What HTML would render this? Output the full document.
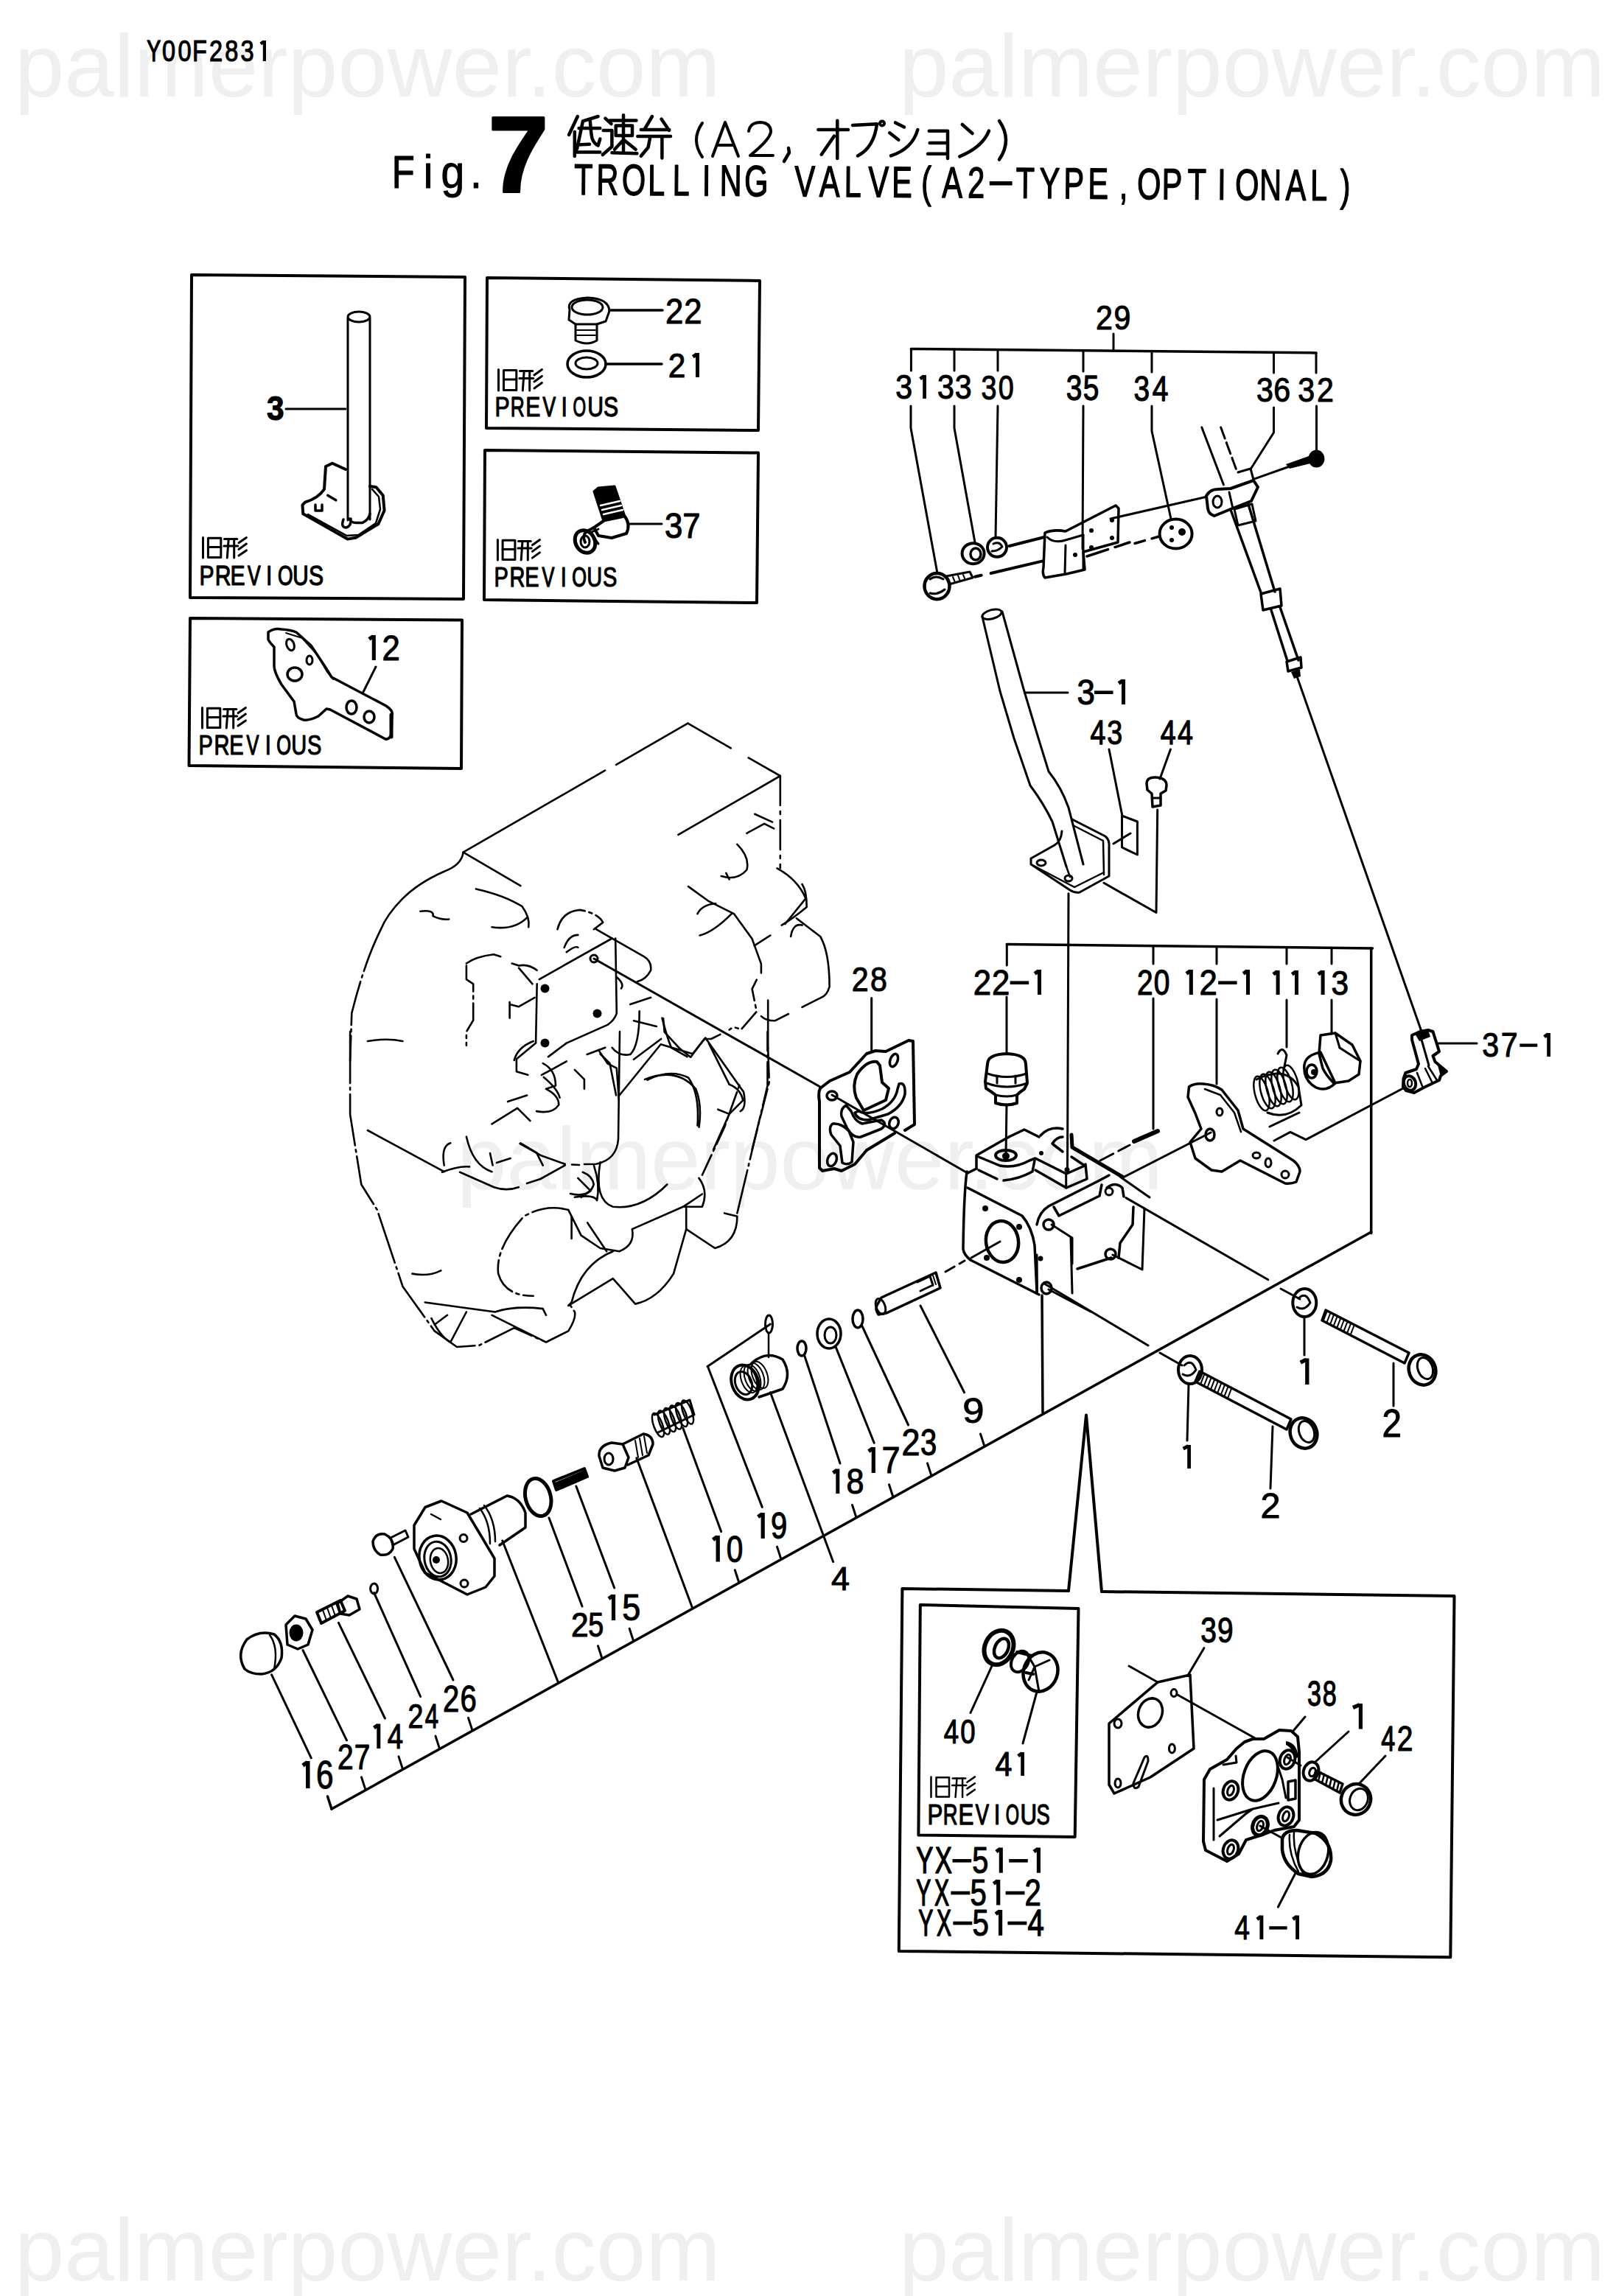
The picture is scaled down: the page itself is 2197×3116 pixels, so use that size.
<!DOCTYPE html>
<html><head><meta charset="utf-8"><style>
html,body{margin:0;padding:0;background:#fff;}
body{width:2197px;height:3116px;overflow:hidden;position:relative;}
svg{position:absolute;left:0;top:0;}
text{fill:#000;}
.wm{fill:#efefef;font-size:121.4px;font-family:"Liberation Sans",sans-serif;}
</style></head><body>
<svg width="2197" height="3116" viewBox="0 0 2197 3116">
<g class="wmg">
<text class="wm" x="19.7" y="130.5">palmerpower.com</text>
<text class="wm" x="1220" y="130.5">palmerpower.com</text>
<text class="wm" x="620" y="1614">palmerpower.com</text>
<text class="wm" x="19.7" y="3095">palmerpower.com</text>
<text class="wm" x="1220" y="3095">palmerpower.com</text>
</g>
<g stroke="#000" fill="none" stroke-linecap="round" stroke-linejoin="round">
<text transform="translate(199.3,83) scale(0.7,1)" font-size="40.6" font-weight="normal" font-family="Liberation Sans" stroke="#000" stroke-width="1.5">Y</text>
<text transform="translate(220.1,83) scale(0.8,1)" font-size="40.6" font-weight="normal" font-family="Liberation Sans" stroke="#000" stroke-width="1.2">0</text>
<text transform="translate(241.4,83) scale(0.8,1)" font-size="40.6" font-weight="normal" font-family="Liberation Sans" stroke="#000" stroke-width="1.2">0</text>
<text transform="translate(261.1,83) scale(0.8,1)" font-size="40.6" font-weight="normal" font-family="Liberation Sans" stroke="#000" stroke-width="1.2">F</text>
<text transform="translate(284,83) scale(0.8,1)" font-size="40.6" font-weight="normal" font-family="Liberation Sans" stroke="#000" stroke-width="1.2">2</text>
<text transform="translate(305.2,83) scale(0.8,1)" font-size="40.6" font-weight="normal" font-family="Liberation Sans" stroke="#000" stroke-width="1.2">8</text>
<text transform="translate(326.5,83) scale(0.8,1)" font-size="40.6" font-weight="normal" font-family="Liberation Sans" stroke="#000" stroke-width="1.2">3</text>
<path d="M353.7,59.5 L358.2,56.3 M358.9,55 L358.9,83" stroke-width="4.2" fill="none" stroke="#000" stroke-linecap="butt" stroke-linejoin="miter"/>
<text transform="translate(531.8,255.2) scale(0.8,1)" font-size="63.3" font-weight="normal" font-family="Liberation Sans" stroke="#000" stroke-width="1.2">F</text>
<text transform="translate(574.8,255.2) scale(0.9,1)" font-size="63.3" font-weight="normal" font-family="Liberation Sans" stroke="#000" stroke-width="1.1">i</text>
<text transform="translate(598.5,255.2) scale(0.9,1)" font-size="63.3" font-weight="normal" font-family="Liberation Sans" stroke="#000" stroke-width="1.1">g</text>
<text transform="translate(637.9,255.2) scale(0.9,1)" font-size="63.3" font-weight="normal" font-family="Liberation Sans" stroke="#000" stroke-width="1.1">.</text>
<text transform="translate(662.4,260) scale(1,1)" font-size="147.1" font-weight="bold" font-family="Liberation Sans" stroke="#000" stroke-width="3">7</text>
<path d="M783.8,158 L772,183 M779.8,179 L779.8,212" stroke-width="4.5" fill="none" />
<path d="M811.6,158 L791,164.3 L783,202 M785.6,174 L814.3,174 M800.8,163.4 Q802,182 803.5,187.6 Q806,195 811.6,197.5 L814.3,188.5 M783,196.6 L800,195.7 M782,206.4 L814.3,206.4" stroke-width="4.5" fill="none" />
<path d="M827.7,163.4 L863.5,163.4 M846,156.3 L846,204.6 M835.7,170.6 L858,170.6 L858,184 L835.7,184 Z M845.6,190.3 L834,202.8 M847,190.3 L862.6,202.8" stroke-width="4.5" fill="none" />
<path d="M821.4,160.7 L829.5,168 M818.7,177 L830.4,177 L830.4,199 L817.8,210 M830.4,207.3 L864.4,208.2" stroke-width="4.5" fill="none" />
<path d="M885,158 L874.3,176 M869.8,176 L908.3,176 M897.5,161.6 L908,177 M865.3,185 L910,185 M882.3,185.8 L879.6,200 L869.8,211.8 M898.4,185.8 L898.4,214.5" stroke-width="4.5" fill="none" />
<path d="M967,212 L984,166 L1002,212 M973,197 L996,197" stroke-width="4" fill="none" />
<path d="M1016,178 Q1018,166 1032,166 Q1046,167 1046,179 Q1045,189 1018,211 L1049,211" stroke-width="4" fill="none" />
<path d="M953,167 Q937,190 953,213" stroke-width="4" fill="none" />
<path d="M1070,201 L1071,207 L1064,219" stroke-width="4.5" fill="none" />
<path d="M1356,164 Q1374,190 1356,216.6" stroke-width="4.5" fill="none" />
<path d="M1110.4,176 L1151,176 M1136.3,163.8 L1136.3,214.9 M1132,184.6 L1114.7,209.7" stroke-width="4.5" fill="none" />
<path d="M1157,169.9 L1190,168.2 Q1186,200 1164,211.4" stroke-width="4.5" fill="none" />
<ellipse cx="1197" cy="167.5" rx="3" ry="3" stroke-width="4" fill="none"/>
<path d="M1215,166.4 L1227,172.5 M1207.2,180.3 L1219.3,189.8 M1209,211.4 Q1238,202 1245.3,176" stroke-width="4.5" fill="none" />
<path d="M1260.8,177.7 L1286,177.7 L1286,214.9 M1261.7,194 L1286,194 M1259,208.8 L1286,208.8" stroke-width="4.5" fill="none" />
<path d="M1305.8,169 L1319.6,181.1 M1302.3,212.3 Q1333,200 1342,177.7" stroke-width="4.5" fill="none" />
<text transform="translate(779.1,264.1) rotate(0.4) scale(0.7,1)" font-size="59.4" font-weight="normal" font-family="Liberation Sans" stroke="#000" stroke-width="1.4">T</text>
<text transform="translate(809.3,264.3) rotate(0.4) scale(0.7,1)" font-size="59.4" font-weight="normal" font-family="Liberation Sans" stroke="#000" stroke-width="1.4">R</text>
<text transform="translate(843.7,264.6) rotate(0.4) scale(0.7,1)" font-size="59.4" font-weight="normal" font-family="Liberation Sans" stroke="#000" stroke-width="1.5">O</text>
<text transform="translate(879.1,264.9) rotate(0.4) scale(0.7,1)" font-size="59.4" font-weight="normal" font-family="Liberation Sans" stroke="#000" stroke-width="1.4">L</text>
<text transform="translate(912.4,265.1) rotate(0.4) scale(0.7,1)" font-size="59.4" font-weight="normal" font-family="Liberation Sans" stroke="#000" stroke-width="1.4">L</text>
<text transform="translate(952.8,265.4) rotate(0.4) scale(0.7,1)" font-size="59.4" font-weight="normal" font-family="Liberation Sans" stroke="#000" stroke-width="1.4">I</text>
<text transform="translate(976.6,265.6) rotate(0.4) scale(0.7,1)" font-size="59.4" font-weight="normal" font-family="Liberation Sans" stroke="#000" stroke-width="1.4">N</text>
<text transform="translate(1009.9,265.9) rotate(0.4) scale(0.7,1)" font-size="59.4" font-weight="normal" font-family="Liberation Sans" stroke="#000" stroke-width="1.5">G</text>
<text transform="translate(1078.3,266.4) rotate(0.4) scale(0.7,1)" font-size="59.4" font-weight="normal" font-family="Liberation Sans" stroke="#000" stroke-width="1.5">V</text>
<text transform="translate(1111.8,266.7) rotate(0.4) scale(0.7,1)" font-size="59.4" font-weight="normal" font-family="Liberation Sans" stroke="#000" stroke-width="1.5">A</text>
<text transform="translate(1145.5,266.9) rotate(0.4) scale(0.7,1)" font-size="59.4" font-weight="normal" font-family="Liberation Sans" stroke="#000" stroke-width="1.4">L</text>
<text transform="translate(1178.2,267.2) rotate(0.4) scale(0.7,1)" font-size="59.4" font-weight="normal" font-family="Liberation Sans" stroke="#000" stroke-width="1.5">V</text>
<text transform="translate(1209.9,267.4) rotate(0.4) scale(0.7,1)" font-size="59.4" font-weight="normal" font-family="Liberation Sans" stroke="#000" stroke-width="1.4">E</text>
<text transform="translate(1250.1,267.7) rotate(0.4) scale(0.7,1)" font-size="59.4" font-weight="normal" font-family="Liberation Sans" stroke="#000" stroke-width="1.4">(</text>
<text transform="translate(1278.3,267.9) rotate(0.4) scale(0.7,1)" font-size="59.4" font-weight="normal" font-family="Liberation Sans" stroke="#000" stroke-width="1.5">A</text>
<text transform="translate(1313,268.2) rotate(0.4) scale(0.7,1)" font-size="59.4" font-weight="normal" font-family="Liberation Sans" stroke="#000" stroke-width="1.4">2</text>
<line x1="1342.8" y1="248.8" x2="1373.6" y2="248.8" stroke-width="5.5" stroke="#000" stroke-linecap="butt"/>
<text transform="translate(1378.5,268.7) rotate(0.4) scale(0.7,1)" font-size="59.4" font-weight="normal" font-family="Liberation Sans" stroke="#000" stroke-width="1.4">T</text>
<text transform="translate(1410.5,269) rotate(0.4) scale(0.7,1)" font-size="59.4" font-weight="normal" font-family="Liberation Sans" stroke="#000" stroke-width="1.4">Y</text>
<text transform="translate(1443.2,269.2) rotate(0.4) scale(0.7,1)" font-size="59.4" font-weight="normal" font-family="Liberation Sans" stroke="#000" stroke-width="1.4">P</text>
<text transform="translate(1476.3,269.5) rotate(0.4) scale(0.7,1)" font-size="59.4" font-weight="normal" font-family="Liberation Sans" stroke="#000" stroke-width="1.4">E</text>
<text transform="translate(1518.7,269.7) rotate(0.4) scale(0.7,1)" font-size="59.4" font-weight="normal" font-family="Liberation Sans" stroke="#000" stroke-width="1.4">,</text>
<text transform="translate(1542.9,270) rotate(0.4) scale(0.7,1)" font-size="59.4" font-weight="normal" font-family="Liberation Sans" stroke="#000" stroke-width="1.5">O</text>
<text transform="translate(1576.4,270.2) rotate(0.4) scale(0.7,1)" font-size="59.4" font-weight="normal" font-family="Liberation Sans" stroke="#000" stroke-width="1.4">P</text>
<text transform="translate(1611.5,270.5) rotate(0.4) scale(0.7,1)" font-size="59.4" font-weight="normal" font-family="Liberation Sans" stroke="#000" stroke-width="1.4">T</text>
<text transform="translate(1652,270.7) rotate(0.4) scale(0.7,1)" font-size="59.4" font-weight="normal" font-family="Liberation Sans" stroke="#000" stroke-width="1.4">I</text>
<text transform="translate(1676.1,271) rotate(0.4) scale(0.7,1)" font-size="59.4" font-weight="normal" font-family="Liberation Sans" stroke="#000" stroke-width="1.5">O</text>
<text transform="translate(1709,271.3) rotate(0.4) scale(0.7,1)" font-size="59.4" font-weight="normal" font-family="Liberation Sans" stroke="#000" stroke-width="1.4">N</text>
<text transform="translate(1744.4,271.5) rotate(0.4) scale(0.7,1)" font-size="59.4" font-weight="normal" font-family="Liberation Sans" stroke="#000" stroke-width="1.5">A</text>
<text transform="translate(1778.1,271.8) rotate(0.4) scale(0.7,1)" font-size="59.4" font-weight="normal" font-family="Liberation Sans" stroke="#000" stroke-width="1.4">L</text>
<text transform="translate(1818.4,272) rotate(0.4) scale(0.7,1)" font-size="59.4" font-weight="normal" font-family="Liberation Sans" stroke="#000" stroke-width="1.4">)</text>
<polygon points="260,373 631,376 629,813 258,811" stroke-width="4" fill="none"/>
<line x1="472" y1="432" x2="472" y2="706" stroke-width="3"/>
<line x1="502" y1="432" x2="502" y2="705" stroke-width="3"/>
<ellipse cx="487" cy="430" rx="15" ry="7" stroke-width="3" fill="none"/>
<path d="M469,637 L451,628.7 L442,633 L440,664 Q432,676 414,681.6 L410.4,685.3 L411.3,697.3 L471.6,731.6 L482.7,729.7 L513.3,711.2 L521.6,692.7 L519.7,672.3 L510.5,661.2 L502,660" stroke-width="4" fill="none" />
<path d="M417.8,698.2 L470.6,727 L486.4,726 L510,710 L516,691 L514,674 L505,664" stroke-width="2.5" fill="none" />
<path d="M474,704 Q476,709.4 483,709.4 L492,709.4 Q501,705 502,697" stroke-width="3.5" fill="none" />
<path d="M466,705 Q462,716 470,716 Q477,714 476,704" stroke-width="3.5" fill="none" />
<path d="M428,685 L428,693 L437,693 L437,685" stroke-width="3.5" fill="none" />
<line x1="444.7" y1="672.3" x2="455.8" y2="678.8" stroke-width="3.5"/>
<text transform="translate(361.9,570) scale(0.9,1)" font-size="47.1" font-weight="bold" font-family="Liberation Sans" stroke="#000" stroke-width="1.1">3</text>
<line x1="388" y1="555" x2="469" y2="555" stroke-width="3"/>
<line x1="275.5" y1="729.5" x2="275.5" y2="757" stroke-width="3"/>
<polyline points="282.4,730.3 299.8,730.3 299.8,756.4 282.4,756.4 282.4,730.3" stroke-width="3" fill="none"/>
<line x1="282.4" y1="742.5" x2="299.8" y2="742.5" stroke-width="3"/>
<line x1="304.5" y1="731.5" x2="321.8" y2="731.5" stroke-width="3"/>
<line x1="303.9" y1="741" x2="322.8" y2="741" stroke-width="3"/>
<line x1="310.2" y1="731.5" x2="308.3" y2="757" stroke-width="3"/>
<line x1="317.7" y1="731.5" x2="317.7" y2="757" stroke-width="3"/>
<line x1="334.4" y1="729.5" x2="324" y2="736.7" stroke-width="3"/>
<line x1="334.4" y1="738.1" x2="324" y2="745.4" stroke-width="3"/>
<line x1="334.4" y1="746.9" x2="324" y2="754.1" stroke-width="3"/>
<text transform="translate(270.5,794) scale(0.8,1)" font-size="37.7" font-weight="normal" font-family="Liberation Sans" stroke="#000" stroke-width="1.2">P</text>
<text transform="translate(291.8,794) scale(0.8,1)" font-size="37.7" font-weight="normal" font-family="Liberation Sans" stroke="#000" stroke-width="1.3">R</text>
<text transform="translate(312.6,794) scale(0.8,1)" font-size="37.7" font-weight="normal" font-family="Liberation Sans" stroke="#000" stroke-width="1.2">E</text>
<text transform="translate(336,794) scale(0.7,1)" font-size="37.7" font-weight="normal" font-family="Liberation Sans" stroke="#000" stroke-width="1.5">V</text>
<text transform="translate(361.1,794) scale(0.8,1)" font-size="37.7" font-weight="normal" font-family="Liberation Sans" stroke="#000" stroke-width="1.2">I</text>
<text transform="translate(377,794) scale(0.7,1)" font-size="37.7" font-weight="normal" font-family="Liberation Sans" stroke="#000" stroke-width="1.5">O</text>
<text transform="translate(396.9,794) scale(0.8,1)" font-size="37.7" font-weight="normal" font-family="Liberation Sans" stroke="#000" stroke-width="1.3">U</text>
<text transform="translate(418.9,794) scale(0.8,1)" font-size="37.7" font-weight="normal" font-family="Liberation Sans" stroke="#000" stroke-width="1.3">S</text>
<polygon points="661,377 1031,381 1029,584 660,581" stroke-width="4" fill="none"/>
<path d="M773,420 Q768,406 797,404 Q826,405 827,422 L822,436 L810,440 L810,462 Q797,470 781,462 L781,440 L772,434 Z" stroke-width="3" fill="none" />
<ellipse cx="797" cy="417" rx="21" ry="10" stroke-width="3" fill="none"/>
<line x1="781" y1="440" x2="810" y2="440" stroke-width="3"/>
<line x1="783" y1="448" x2="808" y2="448" stroke-width="2"/>
<line x1="783" y1="455" x2="808" y2="455" stroke-width="2"/>
<ellipse cx="796" cy="494" rx="26" ry="18" stroke-width="3.5" fill="none"/>
<ellipse cx="796" cy="493" rx="15" ry="8" stroke-width="3" fill="none"/>
<line x1="827" y1="421" x2="899" y2="421" stroke-width="3.5"/>
<line x1="823" y1="494" x2="898" y2="494" stroke-width="3.5"/>
<text transform="translate(903.1,439) scale(0.9,1)" font-size="48.6" font-weight="normal" font-family="Liberation Sans" stroke="#000" stroke-width="1.1">2</text>
<text transform="translate(928.3,439) scale(0.9,1)" font-size="48.6" font-weight="normal" font-family="Liberation Sans" stroke="#000" stroke-width="1.1">2</text>
<text transform="translate(906.8,512) scale(0.9,1)" font-size="47.1" font-weight="normal" font-family="Liberation Sans" stroke="#000" stroke-width="1.1">2</text>
<path d="M940.3,484.3 L945.7,480.5 M946.5,479 L946.5,512" stroke-width="5" fill="none" stroke="#000" stroke-linecap="butt" stroke-linejoin="miter"/>
<line x1="676.5" y1="501.5" x2="676.5" y2="530" stroke-width="3"/>
<polyline points="683.5,502.4 700.8,502.4 700.8,529.4 683.5,529.4 683.5,502.4" stroke-width="3" fill="none"/>
<line x1="683.5" y1="515" x2="700.8" y2="515" stroke-width="3"/>
<line x1="705.5" y1="503.6" x2="722.8" y2="503.6" stroke-width="3"/>
<line x1="704.9" y1="513.5" x2="723.8" y2="513.5" stroke-width="3"/>
<line x1="711.2" y1="503.6" x2="709.3" y2="530" stroke-width="3"/>
<line x1="718.7" y1="503.6" x2="718.7" y2="530" stroke-width="3"/>
<line x1="735.4" y1="501.5" x2="725" y2="509" stroke-width="3"/>
<line x1="735.4" y1="510.5" x2="725" y2="518" stroke-width="3"/>
<line x1="735.4" y1="519.5" x2="725" y2="527" stroke-width="3"/>
<text transform="translate(671.5,565) scale(0.8,1)" font-size="37.7" font-weight="normal" font-family="Liberation Sans" stroke="#000" stroke-width="1.2">P</text>
<text transform="translate(692.7,565) scale(0.7,1)" font-size="37.7" font-weight="normal" font-family="Liberation Sans" stroke="#000" stroke-width="1.3">R</text>
<text transform="translate(713.3,565) scale(0.8,1)" font-size="37.7" font-weight="normal" font-family="Liberation Sans" stroke="#000" stroke-width="1.2">E</text>
<text transform="translate(736.6,565) scale(0.7,1)" font-size="37.7" font-weight="normal" font-family="Liberation Sans" stroke="#000" stroke-width="1.5">V</text>
<text transform="translate(761.5,565) scale(0.8,1)" font-size="37.7" font-weight="normal" font-family="Liberation Sans" stroke="#000" stroke-width="1.2">I</text>
<text transform="translate(777.4,565) scale(0.6,1)" font-size="37.7" font-weight="normal" font-family="Liberation Sans" stroke="#000" stroke-width="1.5">O</text>
<text transform="translate(797.2,565) scale(0.8,1)" font-size="37.7" font-weight="normal" font-family="Liberation Sans" stroke="#000" stroke-width="1.3">U</text>
<text transform="translate(819,565) scale(0.8,1)" font-size="37.7" font-weight="normal" font-family="Liberation Sans" stroke="#000" stroke-width="1.3">S</text>
<polygon points="658,611 1029,614.5 1027,818 657,814" stroke-width="4" fill="none"/>
<polygon points="806,667 812,662 834,660 848,701 819,707" fill="#000" stroke="#000" stroke-width="3" stroke-linejoin="round"/>
<path d="M815,686 L841,680 M817,692 L843,686 M819,698 L845,692" stroke="#fff" stroke-width="2.5"/>
<path d="M848,701 Q856,712 850,724 L830,730 L812,727 L806,716 L819,707" stroke-width="4" fill="none" />
<path d="M806,716 L795,722 Q790,728 794,736" stroke-width="4" fill="none" />
<ellipse cx="794" cy="735" rx="13" ry="16" stroke-width="5" fill="none" transform="rotate(-30 794 735)"/>
<ellipse cx="794" cy="735" rx="6" ry="8" stroke-width="3" fill="none"/>
<path d="M803,722 L812,718 M806,730 L812,738" stroke-width="3" fill="none" />
<line x1="855" y1="711" x2="898" y2="711" stroke-width="3"/>
<text transform="translate(901.9,730) scale(0.9,1)" font-size="48.6" font-weight="normal" font-family="Liberation Sans" stroke="#000" stroke-width="1.2">3</text>
<text transform="translate(926.3,730) scale(0.9,1)" font-size="48.6" font-weight="normal" font-family="Liberation Sans" stroke="#000" stroke-width="1.1">7</text>
<line x1="675.4" y1="732.5" x2="675.4" y2="760" stroke-width="3"/>
<polyline points="682.1,733.3 698.9,733.3 698.9,759.4 682.1,759.4 682.1,733.3" stroke-width="3" fill="none"/>
<line x1="682.1" y1="745.5" x2="698.9" y2="745.5" stroke-width="3"/>
<line x1="703.5" y1="734.5" x2="720.3" y2="734.5" stroke-width="3"/>
<line x1="702.9" y1="744" x2="721.2" y2="744" stroke-width="3"/>
<line x1="709" y1="734.5" x2="707.2" y2="760" stroke-width="3"/>
<line x1="716.3" y1="734.5" x2="716.3" y2="760" stroke-width="3"/>
<line x1="732.5" y1="732.5" x2="722.4" y2="739.7" stroke-width="3"/>
<line x1="732.5" y1="741.1" x2="722.4" y2="748.4" stroke-width="3"/>
<line x1="732.5" y1="749.9" x2="722.4" y2="757.1" stroke-width="3"/>
<text transform="translate(670.5,796) scale(0.8,1)" font-size="36.2" font-weight="normal" font-family="Liberation Sans" stroke="#000" stroke-width="1.2">P</text>
<text transform="translate(691.5,796) scale(0.8,1)" font-size="36.2" font-weight="normal" font-family="Liberation Sans" stroke="#000" stroke-width="1.3">R</text>
<text transform="translate(712.2,796) scale(0.8,1)" font-size="36.2" font-weight="normal" font-family="Liberation Sans" stroke="#000" stroke-width="1.2">E</text>
<text transform="translate(735.5,796) scale(0.7,1)" font-size="36.2" font-weight="normal" font-family="Liberation Sans" stroke="#000" stroke-width="1.4">V</text>
<text transform="translate(760.7,796) scale(0.8,1)" font-size="36.2" font-weight="normal" font-family="Liberation Sans" stroke="#000" stroke-width="1.2">I</text>
<text transform="translate(776.3,796) scale(0.7,1)" font-size="36.2" font-weight="normal" font-family="Liberation Sans" stroke="#000" stroke-width="1.5">O</text>
<text transform="translate(796.2,796) scale(0.8,1)" font-size="36.2" font-weight="normal" font-family="Liberation Sans" stroke="#000" stroke-width="1.2">U</text>
<text transform="translate(818,796) scale(0.8,1)" font-size="36.2" font-weight="normal" font-family="Liberation Sans" stroke="#000" stroke-width="1.2">S</text>
<polygon points="258,839 627,841.5 626,1043 256.5,1039" stroke-width="4" fill="none"/>
<path d="M364,858 Q372,852 382,854 Q395,855 402,858 L422,876 L440,903 L450,919 L524,958 Q534,965 532,970 L531,997 Q528,1004 523,1003 L448,963 L443,962 L432,972 Q420,978 412,977 Q402,974 402,969 L399,952 L382,929 Q372,912 372,904 L372,878 Q366,872 364,868 Z" stroke-width="3.5" fill="none" />
<path d="M388,859 L410,866 L430,888 L444,912 L452,922" stroke-width="2" fill="none" />
<line x1="531" y1="970" x2="531" y2="1000" stroke-width="5"/>
<ellipse cx="394" cy="875" rx="5" ry="8" stroke-width="3" fill="none" transform="rotate(-20 394 875)"/>
<ellipse cx="420" cy="896" rx="4" ry="6" stroke-width="3" fill="none"/>
<ellipse cx="400" cy="915" rx="10" ry="9" stroke-width="3.5" fill="none"/>
<ellipse cx="477" cy="960" rx="7" ry="9" stroke-width="3.5" fill="none"/>
<ellipse cx="501" cy="973" rx="7" ry="8" stroke-width="3.5" fill="none"/>
<path d="M500.9,867.4 L506.4,863.5 M507.3,862 L507.3,896" stroke-width="5.1" fill="none" stroke="#000" stroke-linecap="butt" stroke-linejoin="miter"/>
<text transform="translate(518.4,896) scale(0.9,1)" font-size="48.6" font-weight="normal" font-family="Liberation Sans" stroke="#000" stroke-width="1.1">2</text>
<line x1="510" y1="905" x2="492" y2="941" stroke-width="3"/>
<line x1="274.5" y1="960.5" x2="274.5" y2="988" stroke-width="3"/>
<polyline points="281.4,961.3 298.8,961.3 298.8,987.4 281.4,987.4 281.4,961.3" stroke-width="3" fill="none"/>
<line x1="281.4" y1="973.5" x2="298.8" y2="973.5" stroke-width="3"/>
<line x1="303.5" y1="962.5" x2="320.8" y2="962.5" stroke-width="3"/>
<line x1="302.9" y1="972" x2="321.8" y2="972" stroke-width="3"/>
<line x1="309.2" y1="962.5" x2="307.3" y2="988" stroke-width="3"/>
<line x1="316.7" y1="962.5" x2="316.7" y2="988" stroke-width="3"/>
<line x1="333.4" y1="960.5" x2="323" y2="967.7" stroke-width="3"/>
<line x1="333.4" y1="969.1" x2="323" y2="976.4" stroke-width="3"/>
<line x1="333.4" y1="977.9" x2="323" y2="985.1" stroke-width="3"/>
<text transform="translate(269.5,1024) scale(0.8,1)" font-size="36.2" font-weight="normal" font-family="Liberation Sans" stroke="#000" stroke-width="1.2">P</text>
<text transform="translate(290.5,1024) scale(0.8,1)" font-size="36.2" font-weight="normal" font-family="Liberation Sans" stroke="#000" stroke-width="1.3">R</text>
<text transform="translate(311.2,1024) scale(0.8,1)" font-size="36.2" font-weight="normal" font-family="Liberation Sans" stroke="#000" stroke-width="1.2">E</text>
<text transform="translate(334.5,1024) scale(0.7,1)" font-size="36.2" font-weight="normal" font-family="Liberation Sans" stroke="#000" stroke-width="1.4">V</text>
<text transform="translate(359.7,1024) scale(0.8,1)" font-size="36.2" font-weight="normal" font-family="Liberation Sans" stroke="#000" stroke-width="1.2">I</text>
<text transform="translate(375.3,1024) scale(0.7,1)" font-size="36.2" font-weight="normal" font-family="Liberation Sans" stroke="#000" stroke-width="1.5">O</text>
<text transform="translate(395.2,1024) scale(0.8,1)" font-size="36.2" font-weight="normal" font-family="Liberation Sans" stroke="#000" stroke-width="1.2">U</text>
<text transform="translate(417,1024) scale(0.8,1)" font-size="36.2" font-weight="normal" font-family="Liberation Sans" stroke="#000" stroke-width="1.2">S</text>
<text transform="translate(1487.1,447) scale(0.9,1)" font-size="45.7" font-weight="normal" font-family="Liberation Sans" stroke="#000" stroke-width="1.1">2</text>
<text transform="translate(1511.5,447) scale(0.9,1)" font-size="45.7" font-weight="normal" font-family="Liberation Sans" stroke="#000" stroke-width="1.1">9</text>
<line x1="1511" y1="453" x2="1511" y2="476" stroke-width="3"/>
<line x1="1236.4" y1="473.5" x2="1786" y2="478.9" stroke-width="3.5"/>
<line x1="1236.4" y1="473.5" x2="1236.4" y2="503" stroke-width="3"/>
<line x1="1295" y1="474.1" x2="1295" y2="503" stroke-width="3"/>
<line x1="1354" y1="474.7" x2="1354" y2="503" stroke-width="3"/>
<line x1="1470" y1="475.8" x2="1470" y2="504" stroke-width="3"/>
<line x1="1563" y1="476.7" x2="1563" y2="505" stroke-width="3"/>
<line x1="1728.5" y1="478.3" x2="1728.5" y2="506" stroke-width="3"/>
<line x1="1786" y1="478.9" x2="1786" y2="506" stroke-width="3"/>
<text transform="translate(1215.3,541) scale(0.9,1)" font-size="45.7" font-weight="normal" font-family="Liberation Sans" stroke="#000" stroke-width="1.1">3</text>
<path d="M1248.6,514.1 L1253.8,510.4 M1254.6,509 L1254.6,541" stroke-width="4.8" fill="none" stroke="#000" stroke-linecap="butt" stroke-linejoin="miter"/>
<text transform="translate(1272,541) scale(0.9,1)" font-size="45.7" font-weight="normal" font-family="Liberation Sans" stroke="#000" stroke-width="1.1">3</text>
<text transform="translate(1295.8,541) scale(0.9,1)" font-size="45.7" font-weight="normal" font-family="Liberation Sans" stroke="#000" stroke-width="1.1">3</text>
<text transform="translate(1331.5,542) scale(0.8,1)" font-size="47.1" font-weight="normal" font-family="Liberation Sans" stroke="#000" stroke-width="1.2">3</text>
<text transform="translate(1354.8,542) scale(0.8,1)" font-size="47.1" font-weight="normal" font-family="Liberation Sans" stroke="#000" stroke-width="1.2">0</text>
<text transform="translate(1446.8,543) scale(0.8,1)" font-size="48.6" font-weight="normal" font-family="Liberation Sans" stroke="#000" stroke-width="1.3">3</text>
<text transform="translate(1469.7,543) scale(0.8,1)" font-size="48.6" font-weight="normal" font-family="Liberation Sans" stroke="#000" stroke-width="1.3">5</text>
<text transform="translate(1538.6,544) scale(0.8,1)" font-size="48.6" font-weight="normal" font-family="Liberation Sans" stroke="#000" stroke-width="1.2">3</text>
<text transform="translate(1563.7,544) scale(0.8,1)" font-size="48.6" font-weight="normal" font-family="Liberation Sans" stroke="#000" stroke-width="1.3">4</text>
<text transform="translate(1704.9,545) scale(0.9,1)" font-size="45.7" font-weight="normal" font-family="Liberation Sans" stroke="#000" stroke-width="1.1">3</text>
<text transform="translate(1728.3,545) scale(0.9,1)" font-size="45.7" font-weight="normal" font-family="Liberation Sans" stroke="#000" stroke-width="1.1">6</text>
<text transform="translate(1761.3,545) scale(0.9,1)" font-size="45.7" font-weight="normal" font-family="Liberation Sans" stroke="#000" stroke-width="1.1">3</text>
<text transform="translate(1787.1,545) scale(0.9,1)" font-size="45.7" font-weight="normal" font-family="Liberation Sans" stroke="#000" stroke-width="1.1">2</text>
<polyline points="1236,551 1236,581 1272,778" stroke-width="3" fill="none"/>
<polyline points="1295,551 1295,581 1323,736" stroke-width="3" fill="none"/>
<polyline points="1354,551 1351,729" stroke-width="3" fill="none"/>
<polyline points="1470,551 1469,745" stroke-width="3" fill="none"/>
<polyline points="1563,551 1563,585 1589,704" stroke-width="3" fill="none"/>
<polyline points="1728.5,553 1728.5,587 1697.5,636" stroke-width="3" fill="none"/>
<polyline points="1786.5,551 1786.5,613" stroke-width="3" fill="none"/>
<ellipse cx="1271.5" cy="795.6" rx="17" ry="17.6" stroke-width="4.5" fill="none"/>
<path d="M1262,786 Q1270,780 1280,786 M1262,805 Q1272,808 1282,800" stroke-width="3" fill="none" />
<polygon points="1284,782 1316,776 1320,784 1288,793" stroke-width="3" fill="none"/>
<line x1="1293" y1="783" x2="1296" y2="790" stroke-width="2"/>
<line x1="1300" y1="781" x2="1303" y2="789" stroke-width="2"/>
<line x1="1307" y1="780" x2="1310" y2="787" stroke-width="2"/>
<line x1="1323" y1="782.7" x2="1331.7" y2="780.8" stroke-width="4"/>
<line x1="1344.7" y1="778" x2="1415" y2="761.4" stroke-width="4"/>
<ellipse cx="1320.6" cy="751.2" rx="15" ry="14" stroke-width="4" fill="none"/>
<ellipse cx="1324" cy="752" rx="7" ry="8" stroke-width="3.5" fill="none"/>
<ellipse cx="1353" cy="742.8" rx="13" ry="13" stroke-width="4" fill="none"/>
<path d="M1348,738 Q1356,734 1360,742 Q1354,748 1346,748" stroke-width="3" fill="none" />
<line x1="1369.7" y1="741" x2="1417" y2="729" stroke-width="4"/>
<path d="M1418,723 Q1430,718 1446,721 L1514,686 L1518,690 L1517,736 L1470,749 L1472,773 L1447,779 L1418,784 Q1414,780 1416,770 Z" stroke-width="3.5" fill="none" />
<path d="M1421,729 Q1430,738 1446,733 L1470,726" stroke-width="3" fill="none" />
<line x1="1446" y1="740" x2="1445" y2="779" stroke-width="3"/>
<line x1="1470" y1="726" x2="1470" y2="772" stroke-width="3"/>
<circle cx="1481" cy="720" r="3" fill="#000" stroke="none"/>
<circle cx="1509" cy="706" r="3" fill="#000" stroke="none"/>
<circle cx="1509" cy="730" r="3" fill="#000" stroke="none"/>
<circle cx="1481" cy="743" r="3" fill="#000" stroke="none"/>
<circle cx="1459" cy="753" r="3" fill="#000" stroke="none"/>
<line x1="1507" y1="704" x2="1636" y2="674.5" stroke-width="3"/>
<line x1="1475" y1="755" x2="1533" y2="736" stroke-width="3.5" stroke-dasharray="30 10"/>
<ellipse cx="1595.6" cy="724.5" rx="22" ry="20" stroke-width="4" fill="none"/>
<circle cx="1604" cy="722" r="5" fill="#000" stroke="none"/>
<circle cx="1590" cy="716" r="3" fill="#000" stroke="none"/>
<circle cx="1590" cy="733" r="3" fill="#000" stroke="none"/>
<line x1="1540" y1="737.5" x2="1573" y2="728" stroke-width="3.5" stroke-dasharray="14 10"/>
<path d="M1637,673 Q1642,664 1652,664 L1670,663 L1701,652 L1707,661 L1698,680 L1670,691 L1648,700 Q1640,698 1639,690 Z" stroke-width="4" fill="none" />
<ellipse cx="1652" cy="681" rx="6" ry="8" stroke-width="3" fill="none"/>
<line x1="1668" y1="668" x2="1673" y2="690" stroke-width="3"/>
<line x1="1630.8" y1="580" x2="1660.4" y2="657.8" stroke-width="3"/>
<line x1="1656.7" y1="580" x2="1679" y2="641" stroke-width="3" stroke-dasharray="16 6"/>
<path d="M1680,641 L1697,636 L1701,651" stroke-width="3" fill="none" />
<line x1="1669.7" y1="691" x2="1711" y2="804" stroke-width="3.5"/>
<line x1="1693.8" y1="683.8" x2="1730" y2="803" stroke-width="3.5"/>
<polygon points="1675,691 1699,684 1704,707 1680,713" stroke-width="3" fill="none"/>
<polygon points="1711,806 1737,799 1739,822 1714,828" stroke-width="3.5" fill="none"/>
<line x1="1725" y1="828" x2="1747" y2="897" stroke-width="3.5"/>
<line x1="1737" y1="824" x2="1762" y2="896" stroke-width="3.5"/>
<polygon points="1746,898 1765,892 1766,906 1748,911" stroke-width="3.5" fill="none"/>
<polygon points="1752,912 1764,908 1765,918 1756,921" fill="#000" stroke="none"/>
<line x1="1760" y1="918" x2="1928.7" y2="1399" stroke-width="3"/>
<ellipse cx="1786.4" cy="622.6" rx="9" ry="10" stroke-width="4" fill="#000"/>
<polygon points="1776,619 1782,628 1750,636 1745,630" fill="#000" stroke="none"/>
<line x1="1750" y1="633" x2="1701" y2="650.4" stroke-width="3"/>
<ellipse cx="1346" cy="833.7" rx="13.5" ry="6" stroke-width="3" fill="none" transform="rotate(-15 1346 833.7)"/>
<path d="M1333,837 L1357,938 L1376,1002 L1398,1066 Q1416,1090 1428,1115 L1447,1176" stroke-width="3" fill="none" />
<path d="M1360,830 L1389,935 L1407,995 L1423,1047 Q1440,1068 1450,1096 L1470,1173" stroke-width="3" fill="none" />
<path d="M1455,1112 L1500,1135 Q1506,1140 1505,1150 L1505,1189 L1465,1211 Q1458,1212 1452,1208 L1399,1173 L1399,1165 L1431,1147 Q1440,1142 1441,1128" stroke-width="3" fill="none" />
<path d="M1456,1120 L1497,1141 L1498,1187" stroke-width="2.5" fill="none" />
<path d="M1403,1175 L1458,1204 L1498,1184" stroke-width="2.5" fill="none" />
<ellipse cx="1413" cy="1171" rx="6" ry="4" stroke-width="3" fill="none"/>
<ellipse cx="1450" cy="1192" rx="5" ry="4" stroke-width="3" fill="none"/>
<path d="M1447,1176 L1452,1190" stroke-width="2.5" fill="none" />
<text transform="translate(1461.4,956) scale(0.9,1)" font-size="48.6" font-weight="normal" font-family="Liberation Sans" stroke="#000" stroke-width="1.2">3</text>
<line x1="1485" y1="939.7" x2="1510.5" y2="939.7" stroke-width="4.6" stroke="#000" stroke-linecap="butt"/>
<path d="M1518.1,927.4 L1523.6,923.5 M1524.5,922 L1524.5,956" stroke-width="5.1" fill="none" stroke="#000" stroke-linecap="butt" stroke-linejoin="miter"/>
<line x1="1391" y1="940" x2="1449" y2="940" stroke-width="3"/>
<text transform="translate(1479.4,1010) scale(0.8,1)" font-size="47.1" font-weight="normal" font-family="Liberation Sans" stroke="#000" stroke-width="1.3">4</text>
<text transform="translate(1502.3,1010) scale(0.8,1)" font-size="47.1" font-weight="normal" font-family="Liberation Sans" stroke="#000" stroke-width="1.2">3</text>
<line x1="1505" y1="1017" x2="1522.5" y2="1105" stroke-width="3"/>
<polygon points="1522.5,1107 1543.4,1115 1543.4,1160 1522.5,1150" stroke-width="3" fill="none"/>
<line x1="1511" y1="1145" x2="1534" y2="1131" stroke-width="3"/>
<text transform="translate(1574.8,1010) scale(0.8,1)" font-size="47.1" font-weight="normal" font-family="Liberation Sans" stroke="#000" stroke-width="1.3">4</text>
<text transform="translate(1598.1,1010) scale(0.8,1)" font-size="47.1" font-weight="normal" font-family="Liberation Sans" stroke="#000" stroke-width="1.3">4</text>
<line x1="1588.4" y1="1017" x2="1574" y2="1057" stroke-width="3"/>
<path d="M1556,1064 Q1556,1054 1569,1055 Q1583,1056 1583,1066 L1582,1073 L1575,1077 L1575,1093 L1564,1095 L1563,1077 L1557,1072 Z" stroke-width="3.5" fill="none" />
<line x1="1564" y1="1083" x2="1575" y2="1083" stroke-width="3"/>
<polyline points="1570.7,1099 1569,1238.5 1498,1198.3" stroke-width="3" fill="none"/>
<line x1="1450" y1="1212.8" x2="1448.5" y2="1589" stroke-width="3"/>
<line x1="1366.3" y1="1281.5" x2="1862.5" y2="1287" stroke-width="3.5"/>
<line x1="1366.3" y1="1281.5" x2="1366.3" y2="1310" stroke-width="3"/>
<line x1="1565" y1="1283.7" x2="1565" y2="1308" stroke-width="3"/>
<line x1="1651" y1="1284.7" x2="1651" y2="1308" stroke-width="3"/>
<line x1="1746" y1="1285.7" x2="1746" y2="1308" stroke-width="3"/>
<line x1="1807" y1="1286.4" x2="1807" y2="1308" stroke-width="3"/>
<line x1="1860.7" y1="1287" x2="1860.7" y2="1673.8" stroke-width="3.5"/>
<line x1="1860.7" y1="1672" x2="450" y2="2455" stroke-width="3.5"/>
<line x1="444.5" y1="2438" x2="450" y2="2455" stroke-width="3.5"/>
<text transform="translate(1320.8,1350) scale(0.9,1)" font-size="48.6" font-weight="normal" font-family="Liberation Sans" stroke="#000" stroke-width="1.1">2</text>
<text transform="translate(1346,1350) scale(0.9,1)" font-size="48.6" font-weight="normal" font-family="Liberation Sans" stroke="#000" stroke-width="1.1">2</text>
<line x1="1370.7" y1="1333.7" x2="1396.2" y2="1333.7" stroke-width="4.6" stroke="#000" stroke-linecap="butt"/>
<path d="M1404.1,1321.4 L1409.6,1317.5 M1410.5,1316 L1410.5,1350" stroke-width="5.1" fill="none" stroke="#000" stroke-linecap="butt" stroke-linejoin="miter"/>
<text transform="translate(1543.1,1350) scale(0.8,1)" font-size="48.6" font-weight="normal" font-family="Liberation Sans" stroke="#000" stroke-width="1.2">2</text>
<text transform="translate(1565.8,1350) scale(0.8,1)" font-size="48.6" font-weight="normal" font-family="Liberation Sans" stroke="#000" stroke-width="1.3">0</text>
<path d="M1609.9,1321.4 L1615.4,1317.5 M1616.3,1316 L1616.3,1350" stroke-width="5.1" fill="none" stroke="#000" stroke-linecap="butt" stroke-linejoin="miter"/>
<text transform="translate(1627.6,1350) scale(0.9,1)" font-size="48.6" font-weight="normal" font-family="Liberation Sans" stroke="#000" stroke-width="1.1">2</text>
<line x1="1653.1" y1="1333.7" x2="1678.6" y2="1333.7" stroke-width="4.6" stroke="#000" stroke-linecap="butt"/>
<path d="M1687.1,1321.4 L1692.6,1317.5 M1693.5,1316 L1693.5,1350" stroke-width="5.1" fill="none" stroke="#000" stroke-linecap="butt" stroke-linejoin="miter"/>
<path d="M1727.9,1322.3 L1733.2,1318.5 M1734.1,1317 L1734.1,1350" stroke-width="5" fill="none" stroke="#000" stroke-linecap="butt" stroke-linejoin="miter"/>
<path d="M1753.3,1322.3 L1758.7,1318.5 M1759.5,1317 L1759.5,1350" stroke-width="5" fill="none" stroke="#000" stroke-linecap="butt" stroke-linejoin="miter"/>
<path d="M1788.9,1322.3 L1794.2,1318.5 M1795.1,1317 L1795.1,1350" stroke-width="5" fill="none" stroke="#000" stroke-linecap="butt" stroke-linejoin="miter"/>
<text transform="translate(1806.6,1350) scale(0.9,1)" font-size="47.1" font-weight="normal" font-family="Liberation Sans" stroke="#000" stroke-width="1.1">3</text>
<line x1="1366" y1="1353" x2="1366" y2="1430" stroke-width="3"/>
<line x1="1565" y1="1355" x2="1565" y2="1532" stroke-width="3"/>
<line x1="1651" y1="1356" x2="1651" y2="1471" stroke-width="3"/>
<line x1="1746" y1="1357" x2="1746" y2="1421" stroke-width="3"/>
<line x1="1807" y1="1357" x2="1807" y2="1403" stroke-width="3"/>
<path d="M1340,1444 Q1340,1431 1366,1430 Q1392,1431 1392,1444 L1394,1470 L1390,1478 Q1384,1482 1380,1486 L1380,1497 Q1366,1502 1351,1497 L1351,1486 Q1346,1482 1338,1477 L1337,1468 Z" stroke-width="4" fill="none" />
<path d="M1340,1457 Q1366,1466 1393,1457 M1339,1470 Q1366,1480 1394,1470 M1351,1486 Q1366,1490 1380,1486" stroke-width="3" fill="none" />
<line x1="1353" y1="1460" x2="1353" y2="1470" stroke-width="3"/>
<line x1="1378" y1="1460" x2="1378" y2="1470" stroke-width="3"/>
<line x1="1366" y1="1499" x2="1365" y2="1568" stroke-width="3"/>
<path d="M1325,1586 L1325,1568 L1360,1548 L1371,1542 L1390,1533 L1410,1543" stroke-width="3.5" fill="none" />
<path d="M1328,1570 L1357,1582 Q1377,1586 1397,1575 L1405,1572 L1447,1593 L1472,1582 L1454,1570" stroke-width="3.5" fill="none" />
<path d="M1328,1588 L1353,1600 M1362,1602 Q1383,1600 1401,1590 L1404,1575" stroke-width="3.5" fill="none" />
<ellipse cx="1365" cy="1568" rx="14" ry="7" stroke-width="4" fill="none"/>
<circle cx="1365" cy="1569" r="5" fill="#000" stroke="none"/>
<path d="M1405,1588 L1447,1612 L1475,1600 L1473,1580" stroke-width="3.5" fill="none" />
<line x1="1446.7" y1="1593" x2="1446.7" y2="1612" stroke-width="3"/>
<circle cx="1448" cy="1587.5" r="3.5" fill="#000" stroke="none"/>
<circle cx="1413" cy="1565" r="3" fill="#000" stroke="none"/>
<path d="M1412,1541 Q1424,1528 1442,1532" stroke-width="3.5" fill="none" />
<path d="M1428,1552 Q1434,1543 1442,1543 M1429,1553 L1442,1563" stroke-width="3.5" fill="none" />
<path d="M1454,1540 L1455,1557 L1523,1597" stroke-width="5" fill="none" />
<path d="M1313,1592 L1325,1586 M1312,1590 Q1308,1620 1307,1695 Q1308,1703 1317,1710 L1410,1757" stroke-width="3.5" fill="none" />
<path d="M1313,1612 L1387,1650 Q1400,1665 1404,1690 L1407,1753" stroke-width="3.5" fill="none" />
<ellipse cx="1360" cy="1685" rx="22" ry="28" stroke-width="4.5" fill="none" transform="rotate(-8 1360 1685)"/>
<line x1="1318" y1="1707" x2="1357" y2="1685" stroke-width="3"/>
<circle cx="1337" cy="1640" r="4" fill="#000" stroke="none"/>
<circle cx="1383" cy="1665" r="4" fill="#000" stroke="none"/>
<circle cx="1383" cy="1737" r="4" fill="#000" stroke="none"/>
<circle cx="1339" cy="1707" r="4" fill="#000" stroke="none"/>
<circle cx="1412" cy="1708" r="3.5" fill="#000" stroke="none"/>
<path d="M1407,1662 Q1410,1645 1423,1637 L1490,1603 L1505,1595" stroke-width="3.5" fill="none" />
<path d="M1430,1638 L1437,1650 L1492,1623 L1495,1608" stroke-width="3.5" fill="none" />
<path d="M1502,1612 Q1513,1603 1523,1612 L1525,1624" stroke-width="3.5" fill="none" />
<ellipse cx="1505" cy="1617" rx="5" ry="5" stroke-width="3" fill="none"/>
<path d="M1538,1638 L1537,1662 L1520,1687 L1518,1707" stroke-width="3.5" fill="none" />
<ellipse cx="1423" cy="1662" rx="7" ry="7" stroke-width="3.5" fill="none"/>
<polyline points="1427,1662 1455,1680 1455,1715" stroke-width="3" fill="none"/>
<ellipse cx="1507" cy="1702" rx="7" ry="7" stroke-width="3.5" fill="none"/>
<polyline points="1510,1703 1550,1723 1553,1640" stroke-width="3" fill="none"/>
<ellipse cx="1420" cy="1748" rx="7" ry="8" stroke-width="3.5" fill="none"/>
<line x1="1423" y1="1750" x2="1480" y2="1780" stroke-width="3"/>
<line x1="1462" y1="1722" x2="1508" y2="1707" stroke-width="3.5"/>
<line x1="1453" y1="1680" x2="1455" y2="1755" stroke-width="3"/>
<line x1="1407" y1="1703" x2="1407.5" y2="1755" stroke-width="3"/>
<line x1="1414" y1="1758" x2="1415" y2="1917" stroke-width="3.5"/>
<line x1="1520" y1="1597" x2="1560" y2="1625" stroke-width="3"/>
<line x1="1528" y1="1625.6" x2="1720.8" y2="1736.8" stroke-width="3"/>
<line x1="1539" y1="1549" x2="1571" y2="1535" stroke-width="6"/>
<line x1="1493" y1="1575" x2="1533" y2="1554" stroke-width="3" stroke-dasharray="20 8"/>
<path d="M1613.5,1475 Q1620,1470 1633,1471 Q1648,1472 1658,1479 L1680,1507 L1687,1532 L1755,1575 Q1764,1582 1764,1590 L1759,1604 Q1752,1607 1744,1606 L1683,1575 L1658,1590 L1644,1588 L1622,1572 L1615,1550 L1630,1532 L1622,1511 L1612,1489 Z" stroke-width="3.5" fill="none" />
<path d="M1635,1478 L1656,1486 L1675,1510 L1684,1536" stroke-width="2.5" fill="none" />
<ellipse cx="1655" cy="1509" rx="4" ry="5" stroke-width="3" fill="none"/>
<ellipse cx="1642" cy="1540" rx="6" ry="8" stroke-width="3.5" fill="none"/>
<ellipse cx="1705" cy="1568" rx="5" ry="4" stroke-width="3" fill="none"/>
<ellipse cx="1721" cy="1578" rx="4" ry="6" stroke-width="3" fill="none"/>
<ellipse cx="1744" cy="1594" rx="5" ry="5" stroke-width="3" fill="none"/>
<line x1="1524" y1="1598" x2="1643" y2="1537" stroke-width="3"/>
<ellipse cx="1712" cy="1484" rx="9" ry="24" stroke-width="2.5" fill="none" transform="rotate(-15 1712 1484)"/>
<ellipse cx="1720" cy="1481" rx="9" ry="24" stroke-width="2.5" fill="none" transform="rotate(-15 1720 1481)"/>
<ellipse cx="1728" cy="1478" rx="9" ry="24" stroke-width="2.5" fill="none" transform="rotate(-15 1728 1478)"/>
<ellipse cx="1736" cy="1475" rx="9" ry="24" stroke-width="2.5" fill="none" transform="rotate(-15 1736 1475)"/>
<ellipse cx="1744" cy="1472" rx="9" ry="24" stroke-width="2.5" fill="none" transform="rotate(-15 1744 1472)"/>
<ellipse cx="1752" cy="1469" rx="9" ry="24" stroke-width="2.5" fill="none" transform="rotate(-15 1752 1469)"/>
<path d="M1705,1465 Q1745,1445 1762,1475 L1766,1500 Q1745,1520 1720,1510" stroke-width="3" fill="none" />
<path d="M1742,1452 L1746,1432 Q1740,1418 1734,1430" stroke-width="3" fill="none" />
<line x1="1723" y1="1529" x2="1763" y2="1510" stroke-width="3"/>
<path d="M1792,1405 L1812,1402 L1835,1418 L1846,1440 L1844,1458 L1830,1467 L1810,1470 Q1800,1460 1795,1450 L1790,1430 Z" stroke-width="3.5" fill="none" />
<path d="M1770,1445 Q1772,1432 1792,1428 L1812,1470 Q1800,1482 1786,1476 Q1768,1466 1770,1445 Z" stroke-width="3.5" fill="none" />
<ellipse cx="1780" cy="1454" rx="7" ry="9" stroke-width="3.5" fill="none"/>
<circle cx="1783" cy="1455" r="4" fill="#000" stroke="none"/>
<line x1="1812" y1="1402" x2="1818" y2="1422" stroke-width="3"/>
<line x1="1818" y1="1422" x2="1846" y2="1440" stroke-width="3"/>
<text transform="translate(2011.3,1434) scale(0.9,1)" font-size="45.7" font-weight="normal" font-family="Liberation Sans" stroke="#000" stroke-width="1.1">3</text>
<text transform="translate(2036.7,1434) scale(0.9,1)" font-size="45.7" font-weight="normal" font-family="Liberation Sans" stroke="#000" stroke-width="1.1">7</text>
<line x1="2062.3" y1="1418.6" x2="2086.3" y2="1418.6" stroke-width="4.3" stroke="#000" stroke-linecap="butt"/>
<path d="M2095.6,1407.1 L2100.8,1403.4 M2101.6,1402 L2101.6,1434" stroke-width="4.8" fill="none" stroke="#000" stroke-linecap="butt" stroke-linejoin="miter"/>
<line x1="1952" y1="1416" x2="2004" y2="1416" stroke-width="3"/>
<path d="M1916,1405 L1927,1400 L1938,1398 L1944.5,1400 L1953,1427 L1944.5,1433 L1947.5,1441 L1963,1454 L1955,1460 L1953,1466 L1934,1475 L1919,1483 L1908,1480 L1904,1475 L1904.5,1464 L1907.4,1456 L1922,1451 L1925,1444 L1916,1411 Z" stroke-width="4" fill="none" />
<line x1="1929" y1="1411" x2="1939" y2="1446" stroke-width="3"/>
<polygon points="1920,1403 1938,1398 1941,1407 1926,1413" fill="#000" stroke="none"/>
<polygon points="1950,1442 1964,1454 1955,1461" fill="#000" stroke="none"/>
<ellipse cx="1913" cy="1470" rx="8" ry="10" stroke-width="4" fill="none" transform="rotate(-20 1913 1470)"/>
<ellipse cx="1913" cy="1470" rx="3" ry="5" stroke-width="2.5" fill="none"/>
<line x1="1934" y1="1450" x2="1944" y2="1470" stroke-width="2.5"/>
<line x1="1938" y1="1447" x2="1950" y2="1466" stroke-width="2.5"/>
<line x1="1923" y1="1456" x2="1930" y2="1474" stroke-width="2.5"/>
<path d="M1729,1548 L1751,1536.4 L1772,1546.7 L1904,1477" stroke-width="3" fill="none" />
<text transform="translate(1155.8,1345) scale(0.9,1)" font-size="45.7" font-weight="normal" font-family="Liberation Sans" stroke="#000" stroke-width="1.1">2</text>
<text transform="translate(1181,1345) scale(0.9,1)" font-size="45.7" font-weight="normal" font-family="Liberation Sans" stroke="#000" stroke-width="1.1">8</text>
<line x1="1182.7" y1="1354.4" x2="1182.7" y2="1427" stroke-width="3"/>
<path d="M1113,1477 L1126,1467 L1153,1455 L1176,1430 L1188,1426 L1202,1427 L1233,1412 L1239,1413 L1241,1526 L1228,1534" stroke-width="4" fill="none" />
<path d="M1214,1538 L1176,1561 L1160,1580 L1142,1589 L1132,1586 L1116,1589 L1112,1585 L1112,1495 Q1110,1483 1113,1477" stroke-width="4" fill="none" />
<ellipse cx="1213" cy="1439" rx="5" ry="9" stroke-width="3.5" fill="none" transform="rotate(20 1213 1439)"/>
<ellipse cx="1129" cy="1487" rx="7" ry="6" stroke-width="3.5" fill="none"/>
<ellipse cx="1213" cy="1524" rx="6" ry="8" stroke-width="3.5" fill="none" transform="rotate(20 1213 1524)"/>
<ellipse cx="1129" cy="1574" rx="6" ry="9" stroke-width="3.5" fill="none" transform="rotate(20 1129 1574)"/>
<path d="M1190,1441 Q1176,1439 1163,1458 Q1156,1474 1162,1490 L1172,1507 L1202,1493 L1206,1477 L1197,1469 L1194,1446 Z" stroke-width="4" fill="none" />
<path d="M1220,1471 Q1229,1468 1228,1485 Q1224,1502 1205,1512 L1178,1520 Q1163,1520 1160,1510 L1165,1508 Q1176,1514 1197,1505 Q1215,1495 1218,1478 Z" stroke-width="3.5" fill="none" />
<path d="M1148,1500 Q1140,1505 1142,1515 L1150,1532 Q1158,1545 1168,1543 L1196,1532 Q1205,1525 1196,1520 L1170,1525 Q1160,1522 1155,1508 Z" stroke-width="3.5" fill="none" />
<path d="M1130,1525 Q1124,1530 1128,1540 L1140,1555 L1143,1578 Q1150,1582 1156,1577 L1158,1550 L1152,1535 Q1142,1524 1130,1525 Z" stroke-width="3.5" fill="none" />
<line x1="806" y1="1301" x2="1113" y2="1475" stroke-width="3"/>
<line x1="1129" y1="1486" x2="1313" y2="1592" stroke-width="3"/>
<ellipse cx="806" cy="1301" rx="5" ry="5" stroke-width="3" fill="none"/>
<path d="M 933.4,981.6 L 836.1,1037.8 M 821,1045.6 L 628.6,1156.7" stroke-width="2.61" fill="none" />
<path d="M 933.4,981.6 L 991.8,1015.3 M 1015.6,1028.3 L 1058.8,1053" stroke-width="2.61" fill="none" />
<path d="M 1058.8,1053 L 920.4,1132.9" stroke-width="2.61" fill="none" />
<path d="M 1058.8,1053 L 1058.8,1178.3" stroke-width="2.61" fill="none" stroke-dasharray="40 8 4 8"/>
<path d="M 628.6,1156.7 L 706.4,1202.1" stroke-width="2.61" fill="none" />
<path d="M 628.6,1156.7 Q 626.5,1174 602.7,1182.7 Q 568.1,1197.8 546.5,1219.4 Q 524.9,1241 516.2,1262.6" stroke-width="2.61" fill="none" />
<path d="M 516.2,1262.6 Q 494.6,1305.9 477.3,1375 L 475.1,1439.9" stroke-width="2.61" fill="none" stroke-dasharray="60 6 3 6"/>
<path d="M 645.9,1206.4 Q 684.8,1215.1 708.6,1230.2 Q 719.4,1245.3 717.2,1258.3 M 667.5,1258.3 Q 697.8,1262.6 715.1,1245.3" stroke-width="2.61" fill="none" />
<path d="M 570.2,1236.7 Q 589.7,1234.5 587.5,1243.2 Q 598.3,1248.8 609.2,1247.5" stroke-width="2.61" fill="none" />
<path d="M 1054.5,1178.3 Q 1082.6,1193.5 1093.4,1219.4 L 1065.3,1254" stroke-width="2.61" fill="none" />
<path d="M 1024.2,1104.8 L 1048,1115.6 M 1013.4,1130.8 L 1037.2,1117.8 L 1050.1,1124.3" stroke-width="2.61" fill="none" />
<path d="M 1000.4,1145.9 Q 1017.7,1163.2 1013.4,1180.5 Q 1000.4,1195.6 978.8,1189.1 M 985.3,1184.8 L 989.6,1193.5" stroke-width="2.61" fill="none" />
<path d="M 632.9,1310.6 L 632.9,1329.1 L 642.2,1335.3 L 642.2,1384.7 L 632.9,1400.2 L 632.9,1418.7" stroke-width="2.61" fill="none" stroke-dasharray="40 6 4 6"/>
<path d="M 632.9,1307.5 Q 645.3,1298.2 670,1295.2 L 679.3,1298.2 M 694.7,1307.5 L 704,1310.6 Q 716.3,1307.5 728.7,1316.8" stroke-width="2.61" fill="none" />
<path d="M 704,1313.7 L 722.5,1335.3 M 691.6,1360 L 691.6,1381.6 M 691.6,1363.1 L 704,1366.2 L 725.6,1353.8" stroke-width="2.61" fill="none" />
<path d="M 728.7,1335.3 L 727.1,1415.6 L 700.9,1437.2 L 700.9,1454.2 L 716.3,1458.8 M 731.8,1329.1 L 830.6,1273.5" stroke-width="2.61" fill="none" />
<path d="M 835.2,1273.5 L 836.8,1375.4 Q 833.7,1384.7 824.4,1390.9 L 768.8,1415.6 L 744.1,1434.1" stroke-width="2.61" fill="none" />
<circle cx="739.5" cy="1341.5" r="6" fill="#000" stroke="none"/>
<circle cx="810.5" cy="1375.4" r="6" fill="#000" stroke="none"/>
<circle cx="739.5" cy="1415.6" r="6" fill="#000" stroke="none"/>
<path d="M 809,1261.2 L 873.8,1298.2 Q 884.6,1304.4 883.1,1316.8 Q 876.9,1329.1 864.6,1332.2 M 836.8,1326 Q 847.6,1335.3 843,1341.5" stroke-width="2.61" fill="none" />
<path d="M 756.5,1261.2 Q 762.7,1236.5 787.4,1234.9 Q 812.1,1239.6 818.2,1251.9 L 805.9,1261.2" stroke-width="2.61" fill="none" stroke-dasharray="50 6 4 6"/>
<path d="M 765.7,1285.9 Q 771.9,1268.9 784.3,1268.9 M 768.8,1292.1 Q 781.2,1282.8 784.3,1285.9" stroke-width="2.61" fill="none" />
<path d="M 734.9,1458.8 Q 747.2,1452.7 768.8,1440.3 M 737.9,1461.9 Q 756.5,1477.4 759.6,1489.7" stroke-width="2.61" fill="none" />
<path d="M 796.6,1431 L 821.3,1421.8 M 812.1,1424.9 L 824.4,1443.4 L 836.8,1449.6 L 839.9,1492.8" stroke-width="2.61" fill="none" />
<path d="M 830.6,1421.8 Q 839.9,1434.1 855.3,1431 Q 867.7,1418.7 867.7,1372.4 M 855.3,1363.1 L 883.1,1353.8" stroke-width="2.61" fill="none" />
<path d="M 898.5,1381.6 Q 904.7,1406.3 910.9,1421.8 L 932.5,1434.1" stroke-width="2.61" fill="none" />
<path d="M 934.1,1203.1 L 961.9,1223.2 L 995.9,1240.1 L 1020.6,1274.1 L 1032.9,1308.1 L 1032.9,1320.4" stroke-width="2.61" fill="none" />
<path d="M 1026.8,1329.7 L 1020.6,1342.1 L 1026.8,1372.9 L 1005.2,1397.7 Q 995.9,1391.5 989.7,1397.7" stroke-width="2.61" fill="none" stroke-dasharray="30 6 4 6"/>
<path d="M 946.5,1240.1 Q 952.6,1227.8 971.2,1226.3 M 949.6,1269.5 Q 968.1,1264.9 992.8,1240.1 M 1023.7,1283.4 L 1045.3,1269.5" stroke-width="2.61" fill="none" />
<path d="M 1060.7,1255.6 Q 1076.2,1246.3 1094.7,1230.9 Q 1094.7,1209.3 1088.5,1200 M 1073.1,1271 Q 1076.2,1252.5 1088.5,1255.6 M 1080.8,1246.3 L 1113.2,1271 Q 1125.6,1292.6 1125.6,1339 Q 1122.5,1351.3 1113.2,1354.4 L 1088.5,1366.8" stroke-width="2.61" fill="none" />
<path d="M 1070,1376 L 1051.5,1385.3 Q 1039.1,1385.3 1032.9,1379.1" stroke-width="2.61" fill="none" />
<path d="M 1042.2,1357.5 L 1042.2,1422.4" stroke-width="2.61" fill="none" />
<path d="M 1042.2,1422.4 L 1043.8,1468.7 L 1020.6,1560.1" stroke-width="2.61" fill="none" stroke-dasharray="40 6 4 6"/>
<path d="M 860,1385.3 L 890.9,1393 M 900.1,1382.2 L 901.7,1400.7 L 921.8,1422.4 L 937.2,1434.7 L 955.7,1410 L 965,1410 L 977.4,1403.8" stroke-width="2.61" fill="none" />
<path d="M 878.5,1465.6 Q 909.4,1450.2 934.1,1462.5 Q 949.6,1484.1 946.5,1527.4 M 860,1437.8 L 897.1,1410" stroke-width="2.61" fill="none" />
<path d="M 961.9,1416.2 L 989.7,1471.8 Q 1005.2,1477.9 1008.2,1493.4 L 989.7,1511.9 L 974.3,1505.7 M 989.7,1511.9 L 968.1,1560.1" stroke-width="2.61" fill="none" />
<path d="M 475.1,1400 L 475.1,1512.4 L 490.3,1607.5 L 511.9,1642.1 L 546.5,1745.9 L 589.7,1806.4 L 620,1828 L 650.2,1825.9 L 697.8,1802.1 L 741,1821.5 L 771.3,1806.4 Q 782.1,1789.1 779.9,1780.5 L 771.3,1767.5" stroke-width="2.61" fill="none" stroke-dasharray="70 6 3 6"/>
<path d="M 576.7,1767.5 L 671.8,1780.5 Q 697.8,1771.8 736.7,1776.1 L 741,1784.8 M 667.5,1784.8 L 736.7,1819.4" stroke-width="2.61" fill="none" />
<path d="M 585.4,1789.1 Q 598.3,1815 611.3,1821.5 M 589.7,1797.8 L 607,1784.8 M 632.9,1780.5 L 611.3,1821.5 M 559.4,1728.6 Q 581.1,1732.9 598.3,1724.3" stroke-width="2.61" fill="none" />
<path d="M 498.9,1534 L 602.7,1590.2" stroke-width="2.61" fill="none" />
<path d="M600,1590.8 Q622,1582 637,1583.4 M674,1578 L692.6,1572 M705.6,1552 L735,1568.6 L766.7,1579.7 M776,1580.5 L786,1581 M793,1580 L809,1579.7 Q837,1574 839,1546 L841,1400" stroke-width="2.6" fill="none" />
<path d="M624,1590.8 L670.4,1611.2 Q687,1617 703.8,1611.2 M715,1606 L733.4,1600 L766.7,1581.5" stroke-width="2.6" fill="none" />
<path d="M665,1565 L668.6,1581.5 M790.8,1590.8 Q804,1596 805.7,1607.5 Q800,1626 774,1620" stroke-width="2.6" fill="none" />
<path d="M 771.3,1642.1 Q 741,1633.5 710.8,1650.8 Q 671.8,1694 676.2,1728.6 Q 684.8,1758.8 723.7,1758.8" stroke-width="2.61" fill="none" stroke-dasharray="50 6 4 6"/>
<path d="M 771.3,1642.1 L 788.6,1676.7 L 814.5,1694 L 840.5,1698.3 Q 862.1,1689.7 857.8,1668.1 L 926.9,1637.8 L 952.9,1620.5" stroke-width="2.61" fill="none" />
<path d="M 775.6,1650.8 L 775.6,1681 M 797.2,1659.4 L 823.2,1698.3 M 831.8,1698.3 Q 788.6,1715.6 775.6,1767.5 L 771.3,1771.8" stroke-width="2.61" fill="none" />
<path d="M 771.3,1771.8 L 831.8,1735.1 L 862.1,1769.6 Q 892.3,1763.2 914,1728.6 L 931.2,1668.1 L 931.2,1637.8" stroke-width="2.61" fill="none" />
<path d="M 931.2,1668.1 L 970.2,1694 Q 1000.4,1685.3 1000.4,1650.8 L 983.1,1646.4" stroke-width="2.61" fill="none" />
<path d="M 1000.4,1646.4 L 1041.5,1473.5 L 1041.5,1400" stroke-width="2.61" fill="none" stroke-dasharray="60 6 3 6"/>
<path d="M 957.2,1408.6 L 1009.1,1482.1 Q 1013.4,1503.8 1004.7,1508.1 M 957.2,1408.6 L 939.9,1430.3 L 896.7,1417.3 L 840.5,1486.5" stroke-width="2.61" fill="none" />
<path d="M 875,1464.9 Q 918.3,1447.6 944.2,1477.8 Q 952.9,1499.4 948.5,1529.7 M 948.5,1598.9 Q 961.5,1616.2 952.9,1637.8 L 926.9,1637.8" stroke-width="2.61" fill="none" />
<path d="M 952.9,1594.6 L 983.1,1529.7 L 1004.7,1469.2" stroke-width="2.61" fill="none" stroke-dasharray="30 6 4 6"/>
<path d="M 805.9,1581.6 Q 814.5,1607.5 810.2,1629.1 Q 805.9,1620.5 779.9,1624.8 M 814.5,1577.3 Q 805.9,1629.1 831.8,1637.8 Q 870.7,1642.1 905.3,1607.5" stroke-width="2.61" fill="none" />
<path d="M 736.7,1443.2 Q 754,1451.9 754,1473.5 L 741,1477.8 Q 758.3,1486.5 758.3,1499.4 Q 749.7,1512.4 728.1,1508.1" stroke-width="2.61" fill="none" />
<path d="M 697.8,1438.9 Q 702.1,1421.6 723.7,1413 M 667.5,1525.4 L 702.1,1503.8 L 719.4,1521.1 M 689.1,1495.1 L 715.1,1486.5" stroke-width="2.61" fill="none" />
<path d="M 779.9,1451.9 L 792.9,1464.9 L 792.9,1477.8 M 814.5,1430.3 L 827.5,1443.2 L 836.1,1486.5" stroke-width="2.61" fill="none" />
<path d="M 602.7,1581.6 Q 598.3,1555.6 611.3,1551.3 M 632.9,1542.7 Q 641.6,1581.6 667.5,1590.2 M 706.4,1551.3 L 728.1,1564.3 L 736.7,1581.6 M 784.3,1598.9 L 801.5,1616.2 L 788.6,1624.8" stroke-width="2.61" fill="none" />
<path d="M 498.9,1413 Q 524.9,1408.6 546.5,1413" stroke-width="2.61" fill="none" />
<line x1="490.5" y1="2411.9" x2="496" y2="2428.9" stroke-width="3"/>
<line x1="541" y1="2383.9" x2="546.5" y2="2400.9" stroke-width="3"/>
<line x1="591" y1="2356.1" x2="596.5" y2="2373.1" stroke-width="3"/>
<line x1="635.5" y1="2331.4" x2="641" y2="2348.4" stroke-width="3"/>
<line x1="811.5" y1="2233.8" x2="817" y2="2250.8" stroke-width="3"/>
<line x1="854.2" y1="2210.2" x2="859.7" y2="2227.2" stroke-width="3"/>
<line x1="997.3" y1="2130.8" x2="1002.8" y2="2147.8" stroke-width="3"/>
<line x1="1054.5" y1="2099.1" x2="1060" y2="2116.1" stroke-width="3"/>
<line x1="1156.5" y1="2042.5" x2="1162" y2="2059.5" stroke-width="3"/>
<line x1="1206.5" y1="2014.8" x2="1212" y2="2031.8" stroke-width="3"/>
<line x1="1258.5" y1="1985.9" x2="1264" y2="2002.9" stroke-width="3"/>
<line x1="1330.5" y1="1946" x2="1336" y2="1963" stroke-width="3"/>
<path d="M410.9,2395.9 L416.9,2391.7 M417.8,2390 L417.8,2427" stroke-width="5.5" fill="none" stroke="#000" stroke-linecap="butt" stroke-linejoin="miter"/>
<text transform="translate(429,2427) scale(0.8,1)" font-size="52.9" font-weight="normal" font-family="Liberation Sans" stroke="#000" stroke-width="1.2">6</text>
<text transform="translate(458.1,2401) scale(0.8,1)" font-size="48.6" font-weight="normal" font-family="Liberation Sans" stroke="#000" stroke-width="1.2">2</text>
<text transform="translate(480.8,2401) scale(0.8,1)" font-size="48.6" font-weight="normal" font-family="Liberation Sans" stroke="#000" stroke-width="1.2">7</text>
<path d="M507.5,2344.9 L512.9,2341 M513.8,2339.5 L513.8,2373" stroke-width="5" fill="none" stroke="#000" stroke-linecap="butt" stroke-linejoin="miter"/>
<text transform="translate(525.8,2373) scale(0.8,1)" font-size="47.9" font-weight="normal" font-family="Liberation Sans" stroke="#000" stroke-width="1.2">4</text>
<text transform="translate(553.4,2345) scale(0.8,1)" font-size="47.1" font-weight="normal" font-family="Liberation Sans" stroke="#000" stroke-width="1.2">2</text>
<text transform="translate(576.7,2345) scale(0.7,1)" font-size="47.1" font-weight="normal" font-family="Liberation Sans" stroke="#000" stroke-width="1.4">4</text>
<text transform="translate(601.1,2323) scale(0.8,1)" font-size="50" font-weight="normal" font-family="Liberation Sans" stroke="#000" stroke-width="1.2">2</text>
<text transform="translate(624.6,2323) scale(0.8,1)" font-size="50" font-weight="normal" font-family="Liberation Sans" stroke="#000" stroke-width="1.2">6</text>
<text transform="translate(775,2221) scale(0.9,1)" font-size="47.1" font-weight="normal" font-family="Liberation Sans" stroke="#000" stroke-width="1.2">2</text>
<text transform="translate(798.2,2221) scale(0.8,1)" font-size="47.1" font-weight="normal" font-family="Liberation Sans" stroke="#000" stroke-width="1.2">5</text>
<path d="M825.9,2169.6 L831.6,2165.6 M832.5,2164 L832.5,2199" stroke-width="5.2" fill="none" stroke="#000" stroke-linecap="butt" stroke-linejoin="miter"/>
<text transform="translate(844.3,2199) scale(0.9,1)" font-size="50" font-weight="normal" font-family="Liberation Sans" stroke="#000" stroke-width="1.1">5</text>
<path d="M967.5,2089.7 L973.2,2085.6 M974.2,2084 L974.2,2119.5" stroke-width="5.3" fill="none" stroke="#000" stroke-linecap="butt" stroke-linejoin="miter"/>
<text transform="translate(985.7,2119.5) scale(0.8,1)" font-size="50.7" font-weight="normal" font-family="Liberation Sans" stroke="#000" stroke-width="1.2">0</text>
<path d="M1028.6,2058.6 L1034.3,2054.6 M1035.2,2053 L1035.2,2088" stroke-width="5.2" fill="none" stroke="#000" stroke-linecap="butt" stroke-linejoin="miter"/>
<text transform="translate(1046,2088) scale(0.8,1)" font-size="50" font-weight="normal" font-family="Liberation Sans" stroke="#000" stroke-width="1.2">9</text>
<text transform="translate(1127.9,2158.4) scale(1,1)" font-size="44.9" font-weight="normal" font-family="Liberation Sans" stroke="#000" stroke-width="1">4</text>
<path d="M1130.5,1998.9 L1135.9,1995 M1136.8,1993.5 L1136.8,2027" stroke-width="5" fill="none" stroke="#000" stroke-linecap="butt" stroke-linejoin="miter"/>
<text transform="translate(1148.6,2027) scale(0.9,1)" font-size="47.9" font-weight="normal" font-family="Liberation Sans" stroke="#000" stroke-width="1.1">8</text>
<path d="M1178.7,1969.6 L1184.4,1965.6 M1185.3,1964 L1185.3,1999" stroke-width="5.2" fill="none" stroke="#000" stroke-linecap="butt" stroke-linejoin="miter"/>
<text transform="translate(1196.6,1999) scale(0.9,1)" font-size="50" font-weight="normal" font-family="Liberation Sans" stroke="#000" stroke-width="1.1">7</text>
<text transform="translate(1223.6,1975) scale(0.9,1)" font-size="50" font-weight="normal" font-family="Liberation Sans" stroke="#000" stroke-width="1.1">2</text>
<text transform="translate(1249.1,1975) scale(0.8,1)" font-size="50" font-weight="normal" font-family="Liberation Sans" stroke="#000" stroke-width="1.2">3</text>
<text transform="translate(1306.3,1930.5) scale(1.1,1)" font-size="47.9" font-weight="normal" font-family="Liberation Sans" stroke="#000" stroke-width="0.9">9</text>
<line x1="368.6" y1="2272.8" x2="422.3" y2="2385.8" stroke-width="3"/>
<line x1="411" y1="2239.5" x2="470.5" y2="2361.8" stroke-width="3"/>
<line x1="459.4" y1="2202.4" x2="522.4" y2="2332" stroke-width="3"/>
<line x1="507.6" y1="2161.6" x2="570.6" y2="2302.5" stroke-width="3"/>
<line x1="535.4" y1="2113.4" x2="615" y2="2280" stroke-width="3"/>
<line x1="745" y1="2060" x2="790" y2="2180" stroke-width="3"/>
<line x1="781.8" y1="2017" x2="833.7" y2="2155" stroke-width="3"/>
<line x1="681.8" y1="2091" x2="757.7" y2="2283.7" stroke-width="3"/>
<line x1="863.8" y1="1978.7" x2="939.8" y2="2182.7" stroke-width="3"/>
<line x1="926.8" y1="1938" x2="978.7" y2="2078.7" stroke-width="3"/>
<line x1="961" y1="1856" x2="1034.3" y2="2045.4" stroke-width="3"/>
<line x1="1045.4" y1="1889.7" x2="1130.6" y2="2119.5" stroke-width="3"/>
<line x1="1091.7" y1="1839.7" x2="1140" y2="1986" stroke-width="3"/>
<line x1="1134.4" y1="1828.6" x2="1186.2" y2="1958.3" stroke-width="3"/>
<line x1="1169.6" y1="1799" x2="1232.6" y2="1934" stroke-width="3"/>
<line x1="1249" y1="1772" x2="1308.6" y2="1889.7" stroke-width="3"/>
<line x1="960" y1="1854.5" x2="1045.4" y2="1797" stroke-width="3"/>
<path d="M332,2265 Q320,2245 335,2225 Q352,2212 372,2218 Q385,2228 382,2250 Q375,2270 355,2272 Q340,2272 332,2265 Z" stroke-width="3.5" fill="none" />
<path d="M366,2219 Q378,2235 372,2265" stroke-width="2.5" fill="none" />
<path d="M388,2205 L400,2193 L415,2197 L424,2212 L418,2232 L404,2238 L390,2232 Z" stroke-width="3.5" fill="none" />
<ellipse cx="402" cy="2216" rx="8" ry="10" stroke-width="3" fill="#000"/>
<polygon points="430,2188 462,2172 468,2186 436,2203" stroke-width="4" fill="none"/>
<line x1="438" y1="2185" x2="443" y2="2199" stroke-width="2"/>
<line x1="444" y1="2182" x2="449" y2="2196" stroke-width="2"/>
<line x1="450" y1="2179" x2="455" y2="2193" stroke-width="2"/>
<line x1="456" y1="2176" x2="461" y2="2190" stroke-width="2"/>
<path d="M458,2176 L472,2166 L484,2170 L488,2184 L474,2192 L462,2190 Z" stroke-width="3.5" fill="none" />
<ellipse cx="507.6" cy="2156" rx="5" ry="7" stroke-width="3" fill="none"/>
<path d="M506,2092 Q510,2080 522,2082 Q535,2088 533,2102 Q528,2112 516,2110 Q506,2104 506,2092 Z" stroke-width="3.5" fill="none" />
<polygon points="530,2087 550,2077 554,2086 533,2097" stroke-width="3" fill="none"/>
<path d="M577,2045.5 L599,2037 L634,2053 L649,2078 L671,2115 L671,2139 L659,2154 L634,2164 L577,2134.5 L562,2102 L562,2070 Z" stroke-width="3.5" fill="none" />
<ellipse cx="594" cy="2114" rx="25" ry="30" stroke-width="3.5" fill="none" transform="rotate(-10 594 2114)"/>
<ellipse cx="594" cy="2116" rx="18" ry="24" stroke-width="3" fill="none" transform="rotate(-10 594 2116)"/>
<ellipse cx="596" cy="2118" rx="12" ry="17" stroke-width="2.5" fill="none" transform="rotate(-10 596 2118)"/>
<circle cx="592" cy="2117" r="5" fill="#000" stroke="none"/>
<ellipse cx="629" cy="2087.5" rx="5" ry="5" stroke-width="3" fill="none"/>
<ellipse cx="630" cy="2149" rx="5" ry="5" stroke-width="3" fill="none"/>
<path d="M585,2055 L598,2062" stroke-width="2.5" fill="none" />
<path d="M639,2055 L688,2030 Q706,2033 713,2053 L713,2073 L678,2097" stroke-width="3.5" fill="none" />
<path d="M651,2047 Q665,2065 665,2095 M657,2043 Q672,2062 672,2092" stroke-width="2.5" fill="none" />
<ellipse cx="730.2" cy="2032" rx="17" ry="26" stroke-width="5" fill="none" transform="rotate(-15 730.2 2032)"/>
<polygon points="751,2010 793,1993 797,2004 755,2022" stroke-width="4" fill="none"/>
<polygon points="753,2012 793,1995 796,2003 756,2020" fill="#000" stroke="none"/>
<path d="M813,1976 Q812,1962 830,1958 L845,1960 L853,1978 L848,1992 L834,1996 L818,1992 Z" stroke-width="3.5" fill="none" />
<ellipse cx="826" cy="1980" rx="6" ry="8" stroke-width="3" fill="none"/>
<path d="M845,1960 L873,1946 Q886,1948 886,1960 L880,1975 L852,1988" stroke-width="3.5" fill="none" />
<line x1="862" y1="1955" x2="866" y2="1978" stroke-width="2"/>
<line x1="868" y1="1952" x2="872" y2="1975" stroke-width="2"/>
<line x1="874" y1="1949" x2="878" y2="1972" stroke-width="2"/>
<ellipse cx="893" cy="1934" rx="6" ry="17" stroke-width="2.5" fill="none" transform="rotate(-20 893 1934)"/>
<ellipse cx="901" cy="1930.5" rx="6" ry="17" stroke-width="2.5" fill="none" transform="rotate(-20 901 1930.5)"/>
<ellipse cx="909" cy="1927" rx="6" ry="17" stroke-width="2.5" fill="none" transform="rotate(-20 909 1927)"/>
<ellipse cx="917" cy="1923.5" rx="6" ry="17" stroke-width="2.5" fill="none" transform="rotate(-20 917 1923.5)"/>
<ellipse cx="925" cy="1920" rx="6" ry="17" stroke-width="2.5" fill="none" transform="rotate(-20 925 1920)"/>
<ellipse cx="933" cy="1916.5" rx="6" ry="17" stroke-width="2.5" fill="none" transform="rotate(-20 933 1916.5)"/>
<polyline points="888,1920 936,1900 942,1920 893,1944" stroke-width="3" fill="none"/>
<ellipse cx="1011" cy="1876" rx="18" ry="24" stroke-width="4" fill="none" transform="rotate(-20 1011 1876)"/>
<ellipse cx="1009" cy="1877" rx="11" ry="16" stroke-width="3" fill="none" transform="rotate(-20 1009 1877)"/>
<ellipse cx="1016" cy="1872" rx="10" ry="19" stroke-width="2" fill="none" transform="rotate(-20 1016 1872)"/>
<ellipse cx="1021" cy="1870" rx="10" ry="19" stroke-width="2" fill="none" transform="rotate(-20 1021 1870)"/>
<ellipse cx="1026" cy="1868" rx="10" ry="19" stroke-width="2" fill="none" transform="rotate(-20 1026 1868)"/>
<ellipse cx="1031" cy="1866" rx="10" ry="19" stroke-width="2" fill="none" transform="rotate(-20 1031 1866)"/>
<path d="M1020,1850 Q1040,1832 1062,1845 Q1075,1865 1062,1885 L1030,1896" stroke-width="3.5" fill="none" />
<ellipse cx="1043.5" cy="1797" rx="5" ry="12" stroke-width="3" fill="none"/>
<line x1="1043" y1="1809" x2="1043" y2="1842" stroke-width="2.5"/>
<ellipse cx="1088" cy="1830" rx="6" ry="10" stroke-width="3.5" fill="none"/>
<ellipse cx="1125" cy="1810" rx="16" ry="20" stroke-width="3.5" fill="none"/>
<ellipse cx="1127" cy="1812" rx="8" ry="11" stroke-width="3" fill="none"/>
<ellipse cx="1164" cy="1790" rx="7" ry="12" stroke-width="3.5" fill="none"/>
<path d="M1192,1768 Q1186,1775 1192,1784 L1203,1782 L1276,1748 L1270,1727 L1196,1761 Z" stroke-width="3.5" fill="none" />
<ellipse cx="1195" cy="1773" rx="6" ry="11" stroke-width="3" fill="none" transform="rotate(-20 1195 1773)"/>
<polyline points="1245,1740 1262,1732 1266,1744 1249,1752" stroke-width="3" fill="none"/>
<line x1="1262" y1="1733" x2="1266" y2="1745" stroke-width="2"/>
<line x1="1266" y1="1731" x2="1270" y2="1743" stroke-width="2"/>
<line x1="1270" y1="1729" x2="1274" y2="1741" stroke-width="2"/>
<line x1="1283" y1="1726" x2="1309" y2="1711" stroke-width="3" stroke-dasharray="14 8"/>
<ellipse cx="1770.3" cy="1768" rx="16" ry="19" stroke-width="4" fill="none"/>
<path d="M1762,1762 Q1772,1752 1778,1768 Q1770,1780 1760,1774" stroke-width="3" fill="none" />
<ellipse cx="1615" cy="1859" rx="16" ry="19" stroke-width="4" fill="none"/>
<path d="M1607,1853 Q1617,1843 1623,1859 Q1615,1871 1605,1865" stroke-width="3" fill="none" />
<path d="M1799,1778 L1912,1836 L1906,1850 L1794,1792 Z" stroke-width="3.5" fill="none" />
<line x1="1801" y1="1779" x2="1796" y2="1792" stroke-width="2"/>
<line x1="1805.6" y1="1781.4" x2="1800.6" y2="1794.4" stroke-width="2"/>
<line x1="1810.2" y1="1783.8" x2="1805.2" y2="1796.8" stroke-width="2"/>
<line x1="1814.8" y1="1786.2" x2="1809.8" y2="1799.2" stroke-width="2"/>
<line x1="1819.4" y1="1788.6" x2="1814.4" y2="1801.6" stroke-width="2"/>
<line x1="1824" y1="1791" x2="1819" y2="1804" stroke-width="2"/>
<line x1="1828.6" y1="1793.4" x2="1823.6" y2="1806.4" stroke-width="2"/>
<line x1="1833.2" y1="1795.8" x2="1828.2" y2="1808.8" stroke-width="2"/>
<line x1="1837.8" y1="1798.2" x2="1832.8" y2="1811.2" stroke-width="2"/>
<ellipse cx="1930" cy="1859" rx="18" ry="21" stroke-width="4.5" fill="none" transform="rotate(-20 1930 1859)"/>
<ellipse cx="1934" cy="1857" rx="10" ry="15" stroke-width="3" fill="none" transform="rotate(-20 1934 1857)"/>
<path d="M1628,1861 L1752,1926 L1746,1940 L1622,1875 Z" stroke-width="3.5" fill="none" />
<line x1="1630" y1="1862" x2="1625" y2="1875" stroke-width="2"/>
<line x1="1634.6" y1="1864.4" x2="1629.6" y2="1877.4" stroke-width="2"/>
<line x1="1639.2" y1="1866.8" x2="1634.2" y2="1879.8" stroke-width="2"/>
<line x1="1643.8" y1="1869.2" x2="1638.8" y2="1882.2" stroke-width="2"/>
<line x1="1648.4" y1="1871.6" x2="1643.4" y2="1884.6" stroke-width="2"/>
<line x1="1653" y1="1874" x2="1648" y2="1887" stroke-width="2"/>
<line x1="1657.6" y1="1876.4" x2="1652.6" y2="1889.4" stroke-width="2"/>
<line x1="1662.2" y1="1878.8" x2="1657.2" y2="1891.8" stroke-width="2"/>
<line x1="1666.8" y1="1881.2" x2="1661.8" y2="1894.2" stroke-width="2"/>
<line x1="1671.4" y1="1883.6" x2="1666.4" y2="1896.6" stroke-width="2"/>
<ellipse cx="1769" cy="1945" rx="18" ry="21" stroke-width="4.5" fill="none" transform="rotate(-20 1769 1945)"/>
<ellipse cx="1773" cy="1943" rx="10" ry="15" stroke-width="3" fill="none" transform="rotate(-20 1773 1943)"/>
<path d="M1764.8,1849.2 L1772.6,1845.1 M1773.8,1843.5 L1773.8,1879" stroke-width="5.3" fill="none" stroke="#000" stroke-linecap="butt" stroke-linejoin="miter"/>
<path d="M1605.7,1966.1 L1612.5,1962.4 M1613.6,1961 L1613.6,1993" stroke-width="4.8" fill="none" stroke="#000" stroke-linecap="butt" stroke-linejoin="miter"/>
<text transform="translate(1875.6,1950) scale(0.9,1)" font-size="52.9" font-weight="normal" font-family="Liberation Sans" stroke="#000" stroke-width="1.1">2</text>
<text transform="translate(1710.6,2060) scale(1,1)" font-size="48.6" font-weight="normal" font-family="Liberation Sans" stroke="#000" stroke-width="1">2</text>
<line x1="1770" y1="1788" x2="1770" y2="1839" stroke-width="3"/>
<line x1="1613" y1="1879" x2="1611" y2="1955" stroke-width="3"/>
<line x1="1891" y1="1850" x2="1891" y2="1908" stroke-width="3"/>
<line x1="1727" y1="1936" x2="1724" y2="2020" stroke-width="3"/>
<line x1="1738" y1="1749" x2="1764" y2="1763" stroke-width="3"/>
<line x1="1574" y1="1836" x2="1604" y2="1853" stroke-width="3"/>
<line x1="1417" y1="1742" x2="1558" y2="1826" stroke-width="3"/>
<polyline points="1450,2159 1224.4,2156 1219.8,2648 1968.3,2656.3 1973.5,2165.9 1495,2160" stroke-width="4" fill="none"/>
<polyline points="1450,2159 1474,1920.5 1495,2160" stroke-width="4" fill="none"/>
<polygon points="1248.8,2178 1463.5,2183 1458.7,2493 1246.4,2490.4" stroke-width="4" fill="none"/>
<ellipse cx="1355.5" cy="2236" rx="19" ry="24" stroke-width="6" fill="none" transform="rotate(25 1355.5 2236)"/>
<ellipse cx="1359" cy="2237" rx="9" ry="14" stroke-width="4.5" fill="none" transform="rotate(25 1359 2237)"/>
<ellipse cx="1384" cy="2255" rx="11" ry="15" stroke-width="4" fill="none" transform="rotate(30 1384 2255)"/>
<path d="M1380,2242 L1400,2247 M1392,2270 L1402,2272" stroke-width="4" fill="none" />
<ellipse cx="1412" cy="2269" rx="23" ry="27" stroke-width="4.5" fill="none" transform="rotate(20 1412 2269)"/>
<path d="M1397,2250 L1404,2262 L1424,2253 M1404,2262 L1396,2280 M1404,2262 L1410,2296" stroke-width="3" fill="none" />
<text transform="translate(1280.8,2366) scale(0.8,1)" font-size="45.7" font-weight="normal" font-family="Liberation Sans" stroke="#000" stroke-width="1.2">4</text>
<text transform="translate(1303.3,2366) scale(0.8,1)" font-size="45.7" font-weight="normal" font-family="Liberation Sans" stroke="#000" stroke-width="1.2">0</text>
<text transform="translate(1350.4,2410) scale(0.9,1)" font-size="45.7" font-weight="normal" font-family="Liberation Sans" stroke="#000" stroke-width="1.2">4</text>
<path d="M1381.6,2383.1 L1386.8,2379.4 M1387.6,2378 L1387.6,2410" stroke-width="4.8" fill="none" stroke="#000" stroke-linecap="butt" stroke-linejoin="miter"/>
<line x1="1317" y1="2324.5" x2="1346" y2="2261" stroke-width="3"/>
<line x1="1388" y1="2366" x2="1406.5" y2="2298" stroke-width="3"/>
<line x1="1263.5" y1="2411.4" x2="1263.5" y2="2439" stroke-width="2.5"/>
<polyline points="1270.5,2412.3 1288,2412.3 1288,2438.4 1270.5,2438.4 1270.5,2412.3" stroke-width="2.5" fill="none"/>
<line x1="1270.5" y1="2424.5" x2="1288" y2="2424.5" stroke-width="2.5"/>
<line x1="1292.8" y1="2413.5" x2="1310.2" y2="2413.5" stroke-width="2.5"/>
<line x1="1292.1" y1="2423.1" x2="1311.2" y2="2423.1" stroke-width="2.5"/>
<line x1="1298.5" y1="2413.5" x2="1296.6" y2="2439" stroke-width="2.5"/>
<line x1="1306.1" y1="2413.5" x2="1306.1" y2="2439" stroke-width="2.5"/>
<line x1="1322.9" y1="2411.4" x2="1312.4" y2="2418.7" stroke-width="2.5"/>
<line x1="1322.9" y1="2420.2" x2="1312.4" y2="2427.4" stroke-width="2.5"/>
<line x1="1322.9" y1="2428.8" x2="1312.4" y2="2436.1" stroke-width="2.5"/>
<text transform="translate(1258.5,2476) scale(0.8,1)" font-size="39.1" font-weight="normal" font-family="Liberation Sans" stroke="#000" stroke-width="1.2">P</text>
<text transform="translate(1279.7,2476) scale(0.7,1)" font-size="39.1" font-weight="normal" font-family="Liberation Sans" stroke="#000" stroke-width="1.4">R</text>
<text transform="translate(1300.5,2476) scale(0.8,1)" font-size="39.1" font-weight="normal" font-family="Liberation Sans" stroke="#000" stroke-width="1.3">E</text>
<text transform="translate(1323.8,2476) scale(0.7,1)" font-size="39.1" font-weight="normal" font-family="Liberation Sans" stroke="#000" stroke-width="1.5">V</text>
<text transform="translate(1348.7,2476) scale(0.8,1)" font-size="39.1" font-weight="normal" font-family="Liberation Sans" stroke="#000" stroke-width="1.2">I</text>
<text transform="translate(1364.7,2476) scale(0.6,1)" font-size="39.1" font-weight="normal" font-family="Liberation Sans" stroke="#000" stroke-width="1.6">O</text>
<text transform="translate(1384.6,2476) scale(0.8,1)" font-size="39.1" font-weight="normal" font-family="Liberation Sans" stroke="#000" stroke-width="1.3">U</text>
<text transform="translate(1406.4,2476) scale(0.7,1)" font-size="39.1" font-weight="normal" font-family="Liberation Sans" stroke="#000" stroke-width="1.3">S</text>
<text transform="translate(1243.2,2541.7) scale(0.7,1)" font-size="49.6" font-weight="normal" font-family="Liberation Sans" stroke="#000" stroke-width="1.5">Y</text>
<text transform="translate(1268.7,2541.7) scale(0.7,1)" font-size="49.6" font-weight="normal" font-family="Liberation Sans" stroke="#000" stroke-width="1.5">X</text>
<line x1="1292.5" y1="2525.3" x2="1318.2" y2="2525.3" stroke-width="4.6" stroke="#000" stroke-linecap="butt"/>
<text transform="translate(1319.2,2541.7) scale(0.8,1)" font-size="49.6" font-weight="normal" font-family="Liberation Sans" stroke="#000" stroke-width="1.2">5</text>
<path d="M1351.9,2513 L1357.4,2509 M1358.3,2507.5 L1358.3,2541.7" stroke-width="5.1" fill="none" stroke="#000" stroke-linecap="butt" stroke-linejoin="miter"/>
<line x1="1369.2" y1="2525.3" x2="1394.8" y2="2525.3" stroke-width="4.6" stroke="#000" stroke-linecap="butt"/>
<path d="M1403,2513 L1408.5,2509 M1409.4,2507.5 L1409.4,2541.7" stroke-width="5.1" fill="none" stroke="#000" stroke-linecap="butt" stroke-linejoin="miter"/>
<text transform="translate(1243.2,2585.6) scale(0.6,1)" font-size="50.1" font-weight="normal" font-family="Liberation Sans" stroke="#000" stroke-width="1.6">Y</text>
<text transform="translate(1268,2585.6) scale(0.6,1)" font-size="50.1" font-weight="normal" font-family="Liberation Sans" stroke="#000" stroke-width="1.6">X</text>
<line x1="1290.4" y1="2569" x2="1316.3" y2="2569" stroke-width="4.7" stroke="#000" stroke-linecap="butt"/>
<text transform="translate(1316.5,2585.6) scale(0.8,1)" font-size="50.1" font-weight="normal" font-family="Liberation Sans" stroke="#000" stroke-width="1.2">5</text>
<path d="M1348.3,2556.5 L1353.8,2552.6 M1354.7,2551 L1354.7,2585.6" stroke-width="5.2" fill="none" stroke="#000" stroke-linecap="butt" stroke-linejoin="miter"/>
<line x1="1364.6" y1="2569" x2="1390.5" y2="2569" stroke-width="4.7" stroke="#000" stroke-linecap="butt"/>
<text transform="translate(1390.5,2585.6) scale(0.8,1)" font-size="50.1" font-weight="normal" font-family="Liberation Sans" stroke="#000" stroke-width="1.2">2</text>
<text transform="translate(1246.2,2626.7) scale(0.6,1)" font-size="50.3" font-weight="normal" font-family="Liberation Sans" stroke="#000" stroke-width="1.6">Y</text>
<text transform="translate(1270.9,2626.7) scale(0.6,1)" font-size="50.3" font-weight="normal" font-family="Liberation Sans" stroke="#000" stroke-width="1.6">X</text>
<line x1="1293.3" y1="2610" x2="1319.3" y2="2610" stroke-width="4.7" stroke="#000" stroke-linecap="butt"/>
<text transform="translate(1319.5,2626.7) scale(0.8,1)" font-size="50.3" font-weight="normal" font-family="Liberation Sans" stroke="#000" stroke-width="1.2">5</text>
<path d="M1351.1,2597.6 L1356.7,2593.6 M1357.6,2592 L1357.6,2626.7" stroke-width="5.2" fill="none" stroke="#000" stroke-linecap="butt" stroke-linejoin="miter"/>
<line x1="1367.4" y1="2610" x2="1393.4" y2="2610" stroke-width="4.7" stroke="#000" stroke-linecap="butt"/>
<text transform="translate(1394.4,2626.7) scale(0.8,1)" font-size="50.3" font-weight="normal" font-family="Liberation Sans" stroke="#000" stroke-width="1.3">4</text>
<path d="M1505,2339 L1571,2283 L1615,2273 L1620,2373 L1561,2412 L1512,2434 L1505,2422 Z" stroke-width="3.5" fill="none" />
<ellipse cx="1561" cy="2324.5" rx="16" ry="20" stroke-width="3.5" fill="none" transform="rotate(20 1561 2324.5)"/>
<ellipse cx="1593" cy="2297.6" rx="4" ry="5" stroke-width="3" fill="none"/>
<ellipse cx="1517" cy="2339" rx="5" ry="6" stroke-width="3" fill="none"/>
<ellipse cx="1590.4" cy="2373" rx="4" ry="6" stroke-width="3" fill="none"/>
<ellipse cx="1517" cy="2420" rx="4" ry="6" stroke-width="3" fill="none"/>
<path d="M1538,2420 L1553,2385 Q1558,2380 1558,2390 L1545,2425 Q1538,2430 1538,2420 Z" stroke-width="3" fill="none" />
<text transform="translate(1629.2,2229) scale(0.8,1)" font-size="48.6" font-weight="normal" font-family="Liberation Sans" stroke="#000" stroke-width="1.3">3</text>
<text transform="translate(1652,2229) scale(0.8,1)" font-size="48.6" font-weight="normal" font-family="Liberation Sans" stroke="#000" stroke-width="1.2">9</text>
<line x1="1634" y1="2236.6" x2="1612.4" y2="2273" stroke-width="3"/>
<line x1="1532" y1="2261" x2="1571" y2="2283" stroke-width="3"/>
<line x1="1597.8" y1="2300" x2="1702.7" y2="2358.7" stroke-width="3"/>
<path d="M1700,2360 L1715,2360 L1736,2348 L1752,2349 L1761,2357 L1763,2378 L1763,2470 L1756,2479 L1729,2484 L1716,2489 L1691,2497 L1681,2516 L1665,2526 L1636,2511 L1633,2499 L1634,2415 L1642,2401 L1665,2388 L1678,2373 L1689,2364 Z" stroke-width="4" fill="none" />
<ellipse cx="1710" cy="2410" rx="22" ry="35" stroke-width="4" fill="none" transform="rotate(20 1710 2410)"/>
<ellipse cx="1670" cy="2430" rx="10" ry="13" stroke-width="4" fill="none" transform="rotate(20 1670 2430)"/>
<ellipse cx="1670" cy="2430" rx="4" ry="7" stroke-width="3" fill="none" transform="rotate(20 1670 2430)"/>
<ellipse cx="1747" cy="2388" rx="10" ry="13" stroke-width="4" fill="none" transform="rotate(20 1747 2388)"/>
<ellipse cx="1747" cy="2388" rx="4" ry="7" stroke-width="3" fill="none" transform="rotate(20 1747 2388)"/>
<ellipse cx="1745" cy="2465" rx="10" ry="13" stroke-width="4" fill="none" transform="rotate(20 1745 2465)"/>
<ellipse cx="1745" cy="2465" rx="4" ry="7" stroke-width="3" fill="none" transform="rotate(20 1745 2465)"/>
<ellipse cx="1710" cy="2478" rx="10" ry="13" stroke-width="5" fill="none" transform="rotate(20 1710 2478)"/>
<ellipse cx="1710" cy="2478" rx="4" ry="7" stroke-width="3" fill="none" transform="rotate(20 1710 2478)"/>
<ellipse cx="1670" cy="2510" rx="10" ry="13" stroke-width="4" fill="none" transform="rotate(20 1670 2510)"/>
<ellipse cx="1670" cy="2510" rx="4" ry="7" stroke-width="3" fill="none" transform="rotate(20 1670 2510)"/>
<polygon points="1748,2418 1758,2416 1758,2441 1748,2443" stroke-width="3.5" fill="none"/>
<path d="M1647,2427 L1647,2497 M1652,2470 L1700,2455 L1735,2447 M1655,2492 L1690,2462 L1700,2455" stroke-width="3" fill="none" />
<path d="M1660,2395 L1678,2392 L1677,2383 M1735,2400 L1740,2415 L1745,2440" stroke-width="3" fill="none" />
<path d="M1745,2363 Q1760,2365 1762,2385 L1758,2386 Q1752,2370 1745,2368 Z" fill="#000" stroke="none"/>
<text transform="translate(1774.1,2314.7) scale(0.7,1)" font-size="48.7" font-weight="normal" font-family="Liberation Sans" stroke="#000" stroke-width="1.4">3</text>
<text transform="translate(1794.7,2314.7) scale(0.7,1)" font-size="48.7" font-weight="normal" font-family="Liberation Sans" stroke="#000" stroke-width="1.4">8</text>
<line x1="1771" y1="2330" x2="1755" y2="2349" stroke-width="3"/>
<path d="M1836,2317.5 L1845,2313.6 M1846.4,2312 L1846.4,2346.5" stroke-width="5.2" fill="none" stroke="#000" stroke-linecap="butt" stroke-linejoin="miter"/>
<line x1="1830" y1="2350" x2="1785" y2="2391" stroke-width="3"/>
<text transform="translate(1874.3,2375.7) scale(0.7,1)" font-size="48.7" font-weight="normal" font-family="Liberation Sans" stroke="#000" stroke-width="1.4">4</text>
<text transform="translate(1895.8,2375.7) scale(0.8,1)" font-size="48.7" font-weight="normal" font-family="Liberation Sans" stroke="#000" stroke-width="1.2">2</text>
<line x1="1880" y1="2383" x2="1845" y2="2420" stroke-width="3"/>
<line x1="1747" y1="2385" x2="1765" y2="2396" stroke-width="3"/>
<ellipse cx="1779" cy="2404" rx="10" ry="13" stroke-width="4" fill="none" transform="rotate(20 1779 2404)"/>
<ellipse cx="1781" cy="2405" rx="4" ry="6" stroke-width="3" fill="none" transform="rotate(20 1781 2405)"/>
<polygon points="1786,2403 1822,2421 1818,2433 1783,2414" stroke-width="3.5" fill="none"/>
<line x1="1792" y1="2405" x2="1789" y2="2417" stroke-width="2.5"/>
<line x1="1797" y1="2407.7" x2="1794" y2="2419.7" stroke-width="2.5"/>
<line x1="1802" y1="2410.4" x2="1799" y2="2422.4" stroke-width="2.5"/>
<line x1="1807" y1="2413.1" x2="1804" y2="2425.1" stroke-width="2.5"/>
<line x1="1812" y1="2415.8" x2="1809" y2="2427.8" stroke-width="2.5"/>
<line x1="1817" y1="2418.5" x2="1814" y2="2430.5" stroke-width="2.5"/>
<ellipse cx="1840" cy="2442" rx="20" ry="21" stroke-width="4.5" fill="none" transform="rotate(20 1840 2442)"/>
<ellipse cx="1844" cy="2442" rx="12" ry="15" stroke-width="3" fill="none" transform="rotate(20 1844 2442)"/>
<line x1="1710" y1="2478" x2="1739" y2="2494" stroke-width="3"/>
<path d="M1740,2496 Q1742,2484 1760,2484 L1785,2488 Q1808,2500 1806,2525 Q1802,2545 1780,2547 L1762,2543 Q1742,2530 1740,2510 Z" stroke-width="4.5" fill="none" />
<ellipse cx="1782" cy="2515" rx="20" ry="29" stroke-width="3.5" fill="none" transform="rotate(15 1782 2515)"/>
<path d="M1750,2490 Q1748,2515 1762,2540 M1756,2487 Q1754,2512 1768,2542" stroke-width="2.5" fill="none" />
<text transform="translate(1675.3,2632) scale(0.8,1)" font-size="46.4" font-weight="normal" font-family="Liberation Sans" stroke="#000" stroke-width="1.2">4</text>
<path d="M1705.8,2604.7 L1711,2601 M1711.9,2599.5 L1711.9,2632" stroke-width="4.9" fill="none" stroke="#000" stroke-linecap="butt" stroke-linejoin="miter"/>
<line x1="1722.3" y1="2616.4" x2="1746.6" y2="2616.4" stroke-width="4.4" stroke="#000" stroke-linecap="butt"/>
<path d="M1754.5,2604.7 L1759.7,2601 M1760.6,2599.5 L1760.6,2632" stroke-width="4.9" fill="none" stroke="#000" stroke-linecap="butt" stroke-linejoin="miter"/>
<line x1="1758" y1="2542" x2="1734.4" y2="2588" stroke-width="3"/>
</g>
</svg>
</body></html>
